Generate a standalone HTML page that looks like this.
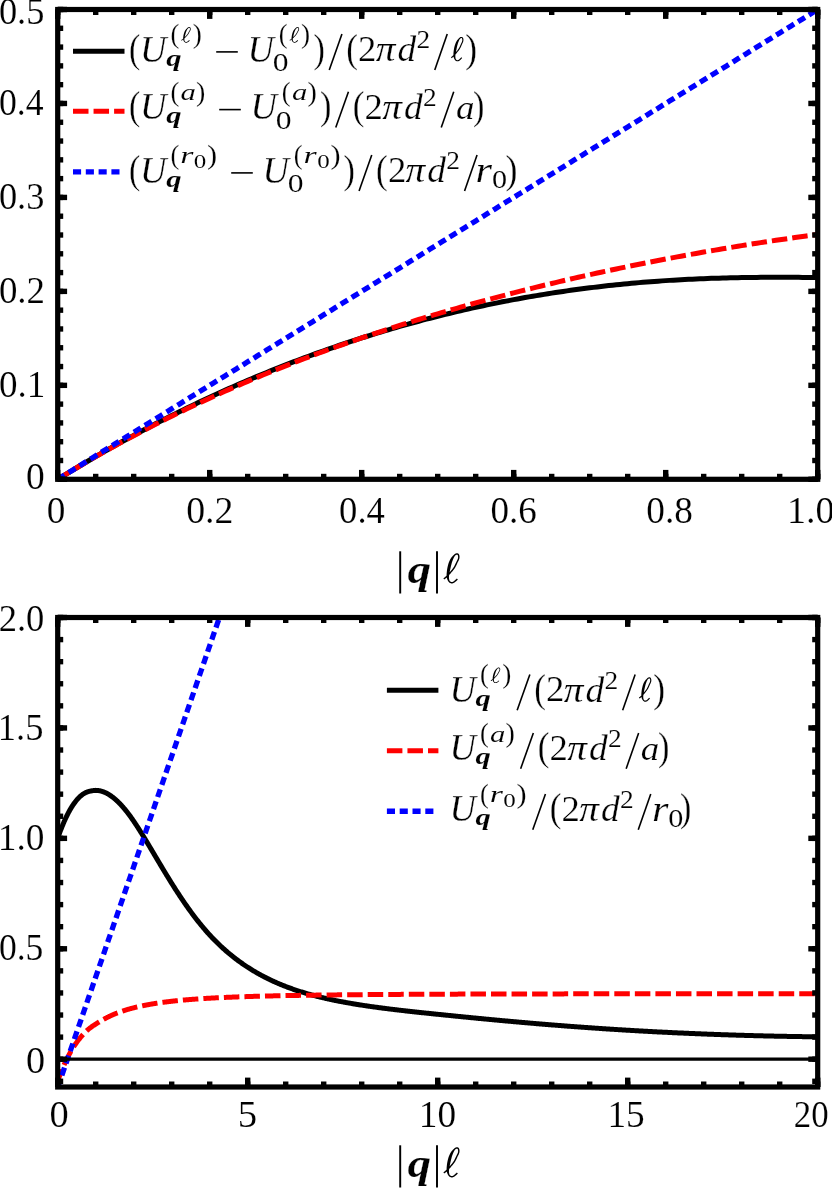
<!DOCTYPE html>
<html><head><meta charset="utf-8"><title>plot</title><style>html,body{margin:0;padding:0;background:#fff}svg{display:block;will-change:transform}text{font-family:"Liberation Serif",serif}</style></head><body>
<svg width="832" height="1191" viewBox="0 0 832 1191" font-family="'Liberation Serif', serif">
<rect width="832" height="1191" fill="#fff"/>
<defs><clipPath id="c1"><rect x="57.7" y="9.5" width="760" height="469.8"/></clipPath><clipPath id="c2"><rect x="57.7" y="617.5" width="760" height="469.5"/></clipPath></defs>
<g clip-path="url(#c1)" fill="none">
<path d="M57.70,479.30 L61.50,476.96 L65.30,474.63 L69.10,472.32 L72.90,470.03 L76.70,467.75 L80.50,465.48 L84.30,463.23 L88.10,460.99 L91.90,458.77 L95.70,456.57 L99.50,454.38 L103.30,452.20 L107.10,450.04 L110.90,447.90 L114.70,445.77 L118.50,443.65 L122.30,441.55 L126.10,439.47 L129.90,437.39 L133.70,435.34 L137.50,433.30 L141.30,431.27 L145.10,429.26 L148.90,427.26 L152.70,425.28 L156.50,423.31 L160.30,421.35 L164.10,419.42 L167.90,417.49 L171.70,415.58 L175.50,413.68 L179.30,411.80 L183.10,409.94 L186.90,408.08 L190.70,406.25 L194.50,404.42 L198.30,402.61 L202.10,400.82 L205.90,399.04 L209.70,397.27 L213.50,395.52 L217.30,393.78 L221.10,392.05 L224.90,390.34 L228.70,388.65 L232.50,386.97 L236.30,385.30 L240.10,383.64 L243.90,382.00 L247.70,380.38 L251.50,378.77 L255.30,377.17 L259.10,375.58 L262.90,374.01 L266.70,372.46 L270.50,370.91 L274.30,369.38 L278.10,367.87 L281.90,366.37 L285.70,364.88 L289.50,363.41 L293.30,361.94 L297.10,360.50 L300.90,359.06 L304.70,357.64 L308.50,356.24 L312.30,354.84 L316.10,353.47 L319.90,352.10 L323.70,350.75 L327.50,349.41 L331.30,348.08 L335.10,346.77 L338.90,345.47 L342.70,344.18 L346.50,342.91 L350.30,341.65 L354.10,340.41 L357.90,339.17 L361.70,337.95 L365.50,336.75 L369.30,335.55 L373.10,334.37 L376.90,333.21 L380.70,332.05 L384.50,330.91 L388.30,329.78 L392.10,328.67 L395.90,327.56 L399.70,326.47 L403.50,325.40 L407.30,324.33 L411.10,323.28 L414.90,322.24 L418.70,321.22 L422.50,320.20 L426.30,319.20 L430.10,318.22 L433.90,317.24 L437.70,316.28 L441.50,315.33 L445.30,314.39 L449.10,313.47 L452.90,312.56 L456.70,311.66 L460.50,310.77 L464.30,309.89 L468.10,309.03 L471.90,308.18 L475.70,307.34 L479.50,306.52 L483.30,305.71 L487.10,304.90 L490.90,304.12 L494.70,303.34 L498.50,302.58 L502.30,301.82 L506.10,301.08 L509.90,300.36 L513.70,299.64 L517.50,298.94 L521.30,298.25 L525.10,297.57 L528.90,296.90 L532.70,296.24 L536.50,295.60 L540.30,294.97 L544.10,294.35 L547.90,293.74 L551.70,293.14 L555.50,292.56 L559.30,291.99 L563.10,291.43 L566.90,290.88 L570.70,290.34 L574.50,289.81 L578.30,289.30 L582.10,288.80 L585.90,288.30 L589.70,287.82 L593.50,287.36 L597.30,286.90 L601.10,286.45 L604.90,286.02 L608.70,285.60 L612.50,285.19 L616.30,284.79 L620.10,284.40 L623.90,284.02 L627.70,283.66 L631.50,283.30 L635.30,282.96 L639.10,282.63 L642.90,282.31 L646.70,282.00 L650.50,281.70 L654.30,281.41 L658.10,281.14 L661.90,280.87 L665.70,280.62 L669.50,280.37 L673.30,280.14 L677.10,279.92 L680.90,279.71 L684.70,279.51 L688.50,279.31 L692.30,279.13 L696.10,278.96 L699.90,278.80 L703.70,278.65 L707.50,278.50 L711.30,278.37 L715.10,278.24 L718.90,278.13 L722.70,278.02 L726.50,277.92 L730.30,277.83 L734.10,277.75 L737.90,277.67 L741.70,277.60 L745.50,277.54 L749.30,277.49 L753.10,277.44 L756.90,277.40 L760.70,277.37 L764.50,277.34 L768.30,277.32 L772.10,277.31 L775.90,277.30 L779.70,277.30 L783.50,277.30 L787.30,277.31 L791.10,277.33 L794.90,277.35 L798.70,277.37 L802.50,277.40 L806.30,277.44 L810.10,277.48 L813.90,277.52 L817.70,277.57" stroke="#000" stroke-width="5"/>
<path d="M57.70,479.30 L61.50,476.96 L65.30,474.64 L69.10,472.33 L72.90,470.04 L76.70,467.77 L80.50,465.52 L84.30,463.28 L88.10,461.06 L91.90,458.86 L95.70,456.67 L99.50,454.50 L103.30,452.35 L107.10,450.21 L110.90,448.09 L114.70,445.98 L118.50,443.89 L122.30,441.82 L126.10,439.76 L129.90,437.72 L133.70,435.69 L137.50,433.68 L141.30,431.68 L145.10,429.70 L148.90,427.73 L152.70,425.78 L156.50,423.84 L160.30,421.91 L164.10,420.00 L167.90,418.11 L171.70,416.23 L175.50,414.36 L179.30,412.51 L183.10,410.67 L186.90,408.84 L190.70,407.03 L194.50,405.23 L198.30,403.45 L202.10,401.67 L205.90,399.92 L209.70,398.17 L213.50,396.44 L217.30,394.72 L221.10,393.01 L224.90,391.32 L228.70,389.63 L232.50,387.96 L236.30,386.31 L240.10,384.66 L243.90,383.03 L247.70,381.41 L251.50,379.80 L255.30,378.20 L259.10,376.62 L262.90,375.04 L266.70,373.48 L270.50,371.93 L274.30,370.39 L278.10,368.87 L281.90,367.35 L285.70,365.84 L289.50,364.35 L293.30,362.87 L297.10,361.39 L300.90,359.93 L304.70,358.48 L308.50,357.04 L312.30,355.61 L316.10,354.19 L319.90,352.78 L323.70,351.38 L327.50,350.00 L331.30,348.62 L335.10,347.25 L338.90,345.89 L342.70,344.54 L346.50,343.20 L350.30,341.87 L354.10,340.55 L357.90,339.24 L361.70,337.94 L365.50,336.65 L369.30,335.37 L373.10,334.09 L376.90,332.83 L380.70,331.57 L384.50,330.33 L388.30,329.09 L392.10,327.86 L395.90,326.65 L399.70,325.43 L403.50,324.23 L407.30,323.04 L411.10,321.85 L414.90,320.68 L418.70,319.51 L422.50,318.35 L426.30,317.20 L430.10,316.06 L433.90,314.92 L437.70,313.80 L441.50,312.68 L445.30,311.57 L449.10,310.46 L452.90,309.37 L456.70,308.28 L460.50,307.20 L464.30,306.13 L468.10,305.06 L471.90,304.01 L475.70,302.96 L479.50,301.92 L483.30,300.88 L487.10,299.85 L490.90,298.83 L494.70,297.82 L498.50,296.82 L502.30,295.82 L506.10,294.83 L509.90,293.84 L513.70,292.87 L517.50,291.89 L521.30,290.93 L525.10,289.97 L528.90,289.02 L532.70,288.08 L536.50,287.15 L540.30,286.22 L544.10,285.29 L547.90,284.38 L551.70,283.47 L555.50,282.56 L559.30,281.67 L563.10,280.78 L566.90,279.89 L570.70,279.01 L574.50,278.14 L578.30,277.28 L582.10,276.42 L585.90,275.57 L589.70,274.72 L593.50,273.88 L597.30,273.05 L601.10,272.22 L604.90,271.40 L608.70,270.58 L612.50,269.77 L616.30,268.97 L620.10,268.17 L623.90,267.38 L627.70,266.59 L631.50,265.81 L635.30,265.03 L639.10,264.27 L642.90,263.50 L646.70,262.75 L650.50,261.99 L654.30,261.25 L658.10,260.51 L661.90,259.78 L665.70,259.05 L669.50,258.32 L673.30,257.61 L677.10,256.90 L680.90,256.19 L684.70,255.49 L688.50,254.79 L692.30,254.11 L696.10,253.42 L699.90,252.74 L703.70,252.07 L707.50,251.40 L711.30,250.74 L715.10,250.09 L718.90,249.44 L722.70,248.79 L726.50,248.15 L730.30,247.52 L734.10,246.89 L737.90,246.27 L741.70,245.65 L745.50,245.04 L749.30,244.43 L753.10,243.83 L756.90,243.23 L760.70,242.64 L764.50,242.06 L768.30,241.48 L772.10,240.90 L775.90,240.33 L779.70,239.77 L783.50,239.21 L787.30,238.66 L791.10,238.11 L794.90,237.57 L798.70,237.04 L802.50,236.51 L806.30,235.98 L810.10,235.46 L813.90,234.95 L817.70,234.44" stroke="#ff0000" stroke-width="5" stroke-dasharray="15.5 5.05" stroke-dashoffset="2.3"/>
<path d="M57.70,479.30 L61.50,476.95 L65.30,474.60 L69.10,472.25 L72.90,469.90 L76.70,467.56 L80.50,465.21 L84.30,462.86 L88.10,460.51 L91.90,458.16 L95.70,455.81 L99.50,453.46 L103.30,451.11 L107.10,448.76 L110.90,446.41 L114.70,444.06 L118.50,441.72 L122.30,439.37 L126.10,437.02 L129.90,434.67 L133.70,432.32 L137.50,429.97 L141.30,427.62 L145.10,425.27 L148.90,422.92 L152.70,420.57 L156.50,418.23 L160.30,415.88 L164.10,413.53 L167.90,411.18 L171.70,408.83 L175.50,406.48 L179.30,404.13 L183.10,401.78 L186.90,399.43 L190.70,397.09 L194.50,394.74 L198.30,392.39 L202.10,390.04 L205.90,387.69 L209.70,385.34 L213.50,382.99 L217.30,380.64 L221.10,378.29 L224.90,375.94 L228.70,373.60 L232.50,371.25 L236.30,368.90 L240.10,366.55 L243.90,364.20 L247.70,361.85 L251.50,359.50 L255.30,357.15 L259.10,354.80 L262.90,352.45 L266.70,350.11 L270.50,347.76 L274.30,345.41 L278.10,343.06 L281.90,340.71 L285.70,338.36 L289.50,336.01 L293.30,333.66 L297.10,331.31 L300.90,328.96 L304.70,326.62 L308.50,324.27 L312.30,321.92 L316.10,319.57 L319.90,317.22 L323.70,314.87 L327.50,312.52 L331.30,310.17 L335.10,307.82 L338.90,305.47 L342.70,303.12 L346.50,300.78 L350.30,298.43 L354.10,296.08 L357.90,293.73 L361.70,291.38 L365.50,289.03 L369.30,286.68 L373.10,284.33 L376.90,281.98 L380.70,279.63 L384.50,277.29 L388.30,274.94 L392.10,272.59 L395.90,270.24 L399.70,267.89 L403.50,265.54 L407.30,263.19 L411.10,260.84 L414.90,258.49 L418.70,256.14 L422.50,253.80 L426.30,251.45 L430.10,249.10 L433.90,246.75 L437.70,244.40 L441.50,242.05 L445.30,239.70 L449.10,237.35 L452.90,235.00 L456.70,232.66 L460.50,230.31 L464.30,227.96 L468.10,225.61 L471.90,223.26 L475.70,220.91 L479.50,218.56 L483.30,216.21 L487.10,213.86 L490.90,211.51 L494.70,209.16 L498.50,206.82 L502.30,204.47 L506.10,202.12 L509.90,199.77 L513.70,197.42 L517.50,195.07 L521.30,192.72 L525.10,190.37 L528.90,188.02 L532.70,185.68 L536.50,183.33 L540.30,180.98 L544.10,178.63 L547.90,176.28 L551.70,173.93 L555.50,171.58 L559.30,169.23 L563.10,166.88 L566.90,164.53 L570.70,162.19 L574.50,159.84 L578.30,157.49 L582.10,155.14 L585.90,152.79 L589.70,150.44 L593.50,148.09 L597.30,145.74 L601.10,143.39 L604.90,141.04 L608.70,138.69 L612.50,136.35 L616.30,134.00 L620.10,131.65 L623.90,129.30 L627.70,126.95 L631.50,124.60 L635.30,122.25 L639.10,119.90 L642.90,117.55 L646.70,115.20 L650.50,112.86 L654.30,110.51 L658.10,108.16 L661.90,105.81 L665.70,103.46 L669.50,101.11 L673.30,98.76 L677.10,96.41 L680.90,94.06 L684.70,91.71 L688.50,89.37 L692.30,87.02 L696.10,84.67 L699.90,82.32 L703.70,79.97 L707.50,77.62 L711.30,75.27 L715.10,72.92 L718.90,70.57 L722.70,68.23 L726.50,65.88 L730.30,63.53 L734.10,61.18 L737.90,58.83 L741.70,56.48 L745.50,54.13 L749.30,51.78 L753.10,49.43 L756.90,47.08 L760.70,44.73 L764.50,42.39 L768.30,40.04 L772.10,37.69 L775.90,35.34 L779.70,32.99 L783.50,30.64 L787.30,28.29 L791.10,25.94 L794.90,23.59 L798.70,21.25 L802.50,18.90 L806.30,16.55 L810.10,14.20 L813.90,11.85 L817.70,9.50" stroke="#0000ff" stroke-width="5.3" stroke-dasharray="8.1 4.7"/>
</g>
<rect x="57.7" y="9.5" width="760.0" height="469.8" fill="none" stroke="#000" stroke-width="5.2"/>
<line x1="57.70" y1="479.30" x2="57.70" y2="469.90" stroke="#000" stroke-width="5.4"/>
<line x1="57.70" y1="9.50" x2="57.70" y2="18.90" stroke="#000" stroke-width="5.4"/>
<line x1="209.70" y1="479.30" x2="209.70" y2="469.90" stroke="#000" stroke-width="5.4"/>
<line x1="209.70" y1="9.50" x2="209.70" y2="18.90" stroke="#000" stroke-width="5.4"/>
<line x1="361.70" y1="479.30" x2="361.70" y2="469.90" stroke="#000" stroke-width="5.4"/>
<line x1="361.70" y1="9.50" x2="361.70" y2="18.90" stroke="#000" stroke-width="5.4"/>
<line x1="513.70" y1="479.30" x2="513.70" y2="469.90" stroke="#000" stroke-width="5.4"/>
<line x1="513.70" y1="9.50" x2="513.70" y2="18.90" stroke="#000" stroke-width="5.4"/>
<line x1="665.70" y1="479.30" x2="665.70" y2="469.90" stroke="#000" stroke-width="5.4"/>
<line x1="665.70" y1="9.50" x2="665.70" y2="18.90" stroke="#000" stroke-width="5.4"/>
<line x1="817.70" y1="479.30" x2="817.70" y2="469.90" stroke="#000" stroke-width="5.4"/>
<line x1="817.70" y1="9.50" x2="817.70" y2="18.90" stroke="#000" stroke-width="5.4"/>
<line x1="57.70" y1="479.30" x2="57.70" y2="473.80" stroke="#000" stroke-width="5.4"/>
<line x1="57.70" y1="9.50" x2="57.70" y2="15.00" stroke="#000" stroke-width="5.4"/>
<line x1="95.70" y1="479.30" x2="95.70" y2="473.80" stroke="#000" stroke-width="5.4"/>
<line x1="95.70" y1="9.50" x2="95.70" y2="15.00" stroke="#000" stroke-width="5.4"/>
<line x1="133.70" y1="479.30" x2="133.70" y2="473.80" stroke="#000" stroke-width="5.4"/>
<line x1="133.70" y1="9.50" x2="133.70" y2="15.00" stroke="#000" stroke-width="5.4"/>
<line x1="171.70" y1="479.30" x2="171.70" y2="473.80" stroke="#000" stroke-width="5.4"/>
<line x1="171.70" y1="9.50" x2="171.70" y2="15.00" stroke="#000" stroke-width="5.4"/>
<line x1="209.70" y1="479.30" x2="209.70" y2="473.80" stroke="#000" stroke-width="5.4"/>
<line x1="209.70" y1="9.50" x2="209.70" y2="15.00" stroke="#000" stroke-width="5.4"/>
<line x1="247.70" y1="479.30" x2="247.70" y2="473.80" stroke="#000" stroke-width="5.4"/>
<line x1="247.70" y1="9.50" x2="247.70" y2="15.00" stroke="#000" stroke-width="5.4"/>
<line x1="285.70" y1="479.30" x2="285.70" y2="473.80" stroke="#000" stroke-width="5.4"/>
<line x1="285.70" y1="9.50" x2="285.70" y2="15.00" stroke="#000" stroke-width="5.4"/>
<line x1="323.70" y1="479.30" x2="323.70" y2="473.80" stroke="#000" stroke-width="5.4"/>
<line x1="323.70" y1="9.50" x2="323.70" y2="15.00" stroke="#000" stroke-width="5.4"/>
<line x1="361.70" y1="479.30" x2="361.70" y2="473.80" stroke="#000" stroke-width="5.4"/>
<line x1="361.70" y1="9.50" x2="361.70" y2="15.00" stroke="#000" stroke-width="5.4"/>
<line x1="399.70" y1="479.30" x2="399.70" y2="473.80" stroke="#000" stroke-width="5.4"/>
<line x1="399.70" y1="9.50" x2="399.70" y2="15.00" stroke="#000" stroke-width="5.4"/>
<line x1="437.70" y1="479.30" x2="437.70" y2="473.80" stroke="#000" stroke-width="5.4"/>
<line x1="437.70" y1="9.50" x2="437.70" y2="15.00" stroke="#000" stroke-width="5.4"/>
<line x1="475.70" y1="479.30" x2="475.70" y2="473.80" stroke="#000" stroke-width="5.4"/>
<line x1="475.70" y1="9.50" x2="475.70" y2="15.00" stroke="#000" stroke-width="5.4"/>
<line x1="513.70" y1="479.30" x2="513.70" y2="473.80" stroke="#000" stroke-width="5.4"/>
<line x1="513.70" y1="9.50" x2="513.70" y2="15.00" stroke="#000" stroke-width="5.4"/>
<line x1="551.70" y1="479.30" x2="551.70" y2="473.80" stroke="#000" stroke-width="5.4"/>
<line x1="551.70" y1="9.50" x2="551.70" y2="15.00" stroke="#000" stroke-width="5.4"/>
<line x1="589.70" y1="479.30" x2="589.70" y2="473.80" stroke="#000" stroke-width="5.4"/>
<line x1="589.70" y1="9.50" x2="589.70" y2="15.00" stroke="#000" stroke-width="5.4"/>
<line x1="627.70" y1="479.30" x2="627.70" y2="473.80" stroke="#000" stroke-width="5.4"/>
<line x1="627.70" y1="9.50" x2="627.70" y2="15.00" stroke="#000" stroke-width="5.4"/>
<line x1="665.70" y1="479.30" x2="665.70" y2="473.80" stroke="#000" stroke-width="5.4"/>
<line x1="665.70" y1="9.50" x2="665.70" y2="15.00" stroke="#000" stroke-width="5.4"/>
<line x1="703.70" y1="479.30" x2="703.70" y2="473.80" stroke="#000" stroke-width="5.4"/>
<line x1="703.70" y1="9.50" x2="703.70" y2="15.00" stroke="#000" stroke-width="5.4"/>
<line x1="741.70" y1="479.30" x2="741.70" y2="473.80" stroke="#000" stroke-width="5.4"/>
<line x1="741.70" y1="9.50" x2="741.70" y2="15.00" stroke="#000" stroke-width="5.4"/>
<line x1="779.70" y1="479.30" x2="779.70" y2="473.80" stroke="#000" stroke-width="5.4"/>
<line x1="779.70" y1="9.50" x2="779.70" y2="15.00" stroke="#000" stroke-width="5.4"/>
<line x1="817.70" y1="479.30" x2="817.70" y2="473.80" stroke="#000" stroke-width="5.4"/>
<line x1="817.70" y1="9.50" x2="817.70" y2="15.00" stroke="#000" stroke-width="5.4"/>
<line x1="57.70" y1="479.30" x2="67.10" y2="479.30" stroke="#000" stroke-width="5.4"/>
<line x1="817.70" y1="479.30" x2="808.30" y2="479.30" stroke="#000" stroke-width="5.4"/>
<line x1="57.70" y1="385.34" x2="67.10" y2="385.34" stroke="#000" stroke-width="5.4"/>
<line x1="817.70" y1="385.34" x2="808.30" y2="385.34" stroke="#000" stroke-width="5.4"/>
<line x1="57.70" y1="291.38" x2="67.10" y2="291.38" stroke="#000" stroke-width="5.4"/>
<line x1="817.70" y1="291.38" x2="808.30" y2="291.38" stroke="#000" stroke-width="5.4"/>
<line x1="57.70" y1="197.42" x2="67.10" y2="197.42" stroke="#000" stroke-width="5.4"/>
<line x1="817.70" y1="197.42" x2="808.30" y2="197.42" stroke="#000" stroke-width="5.4"/>
<line x1="57.70" y1="103.46" x2="67.10" y2="103.46" stroke="#000" stroke-width="5.4"/>
<line x1="817.70" y1="103.46" x2="808.30" y2="103.46" stroke="#000" stroke-width="5.4"/>
<line x1="57.70" y1="9.50" x2="67.10" y2="9.50" stroke="#000" stroke-width="5.4"/>
<line x1="817.70" y1="9.50" x2="808.30" y2="9.50" stroke="#000" stroke-width="5.4"/>
<line x1="57.70" y1="479.30" x2="63.20" y2="479.30" stroke="#000" stroke-width="5.4"/>
<line x1="817.70" y1="479.30" x2="812.20" y2="479.30" stroke="#000" stroke-width="5.4"/>
<line x1="57.70" y1="460.51" x2="63.20" y2="460.51" stroke="#000" stroke-width="5.4"/>
<line x1="817.70" y1="460.51" x2="812.20" y2="460.51" stroke="#000" stroke-width="5.4"/>
<line x1="57.70" y1="441.72" x2="63.20" y2="441.72" stroke="#000" stroke-width="5.4"/>
<line x1="817.70" y1="441.72" x2="812.20" y2="441.72" stroke="#000" stroke-width="5.4"/>
<line x1="57.70" y1="422.92" x2="63.20" y2="422.92" stroke="#000" stroke-width="5.4"/>
<line x1="817.70" y1="422.92" x2="812.20" y2="422.92" stroke="#000" stroke-width="5.4"/>
<line x1="57.70" y1="404.13" x2="63.20" y2="404.13" stroke="#000" stroke-width="5.4"/>
<line x1="817.70" y1="404.13" x2="812.20" y2="404.13" stroke="#000" stroke-width="5.4"/>
<line x1="57.70" y1="385.34" x2="63.20" y2="385.34" stroke="#000" stroke-width="5.4"/>
<line x1="817.70" y1="385.34" x2="812.20" y2="385.34" stroke="#000" stroke-width="5.4"/>
<line x1="57.70" y1="366.55" x2="63.20" y2="366.55" stroke="#000" stroke-width="5.4"/>
<line x1="817.70" y1="366.55" x2="812.20" y2="366.55" stroke="#000" stroke-width="5.4"/>
<line x1="57.70" y1="347.76" x2="63.20" y2="347.76" stroke="#000" stroke-width="5.4"/>
<line x1="817.70" y1="347.76" x2="812.20" y2="347.76" stroke="#000" stroke-width="5.4"/>
<line x1="57.70" y1="328.96" x2="63.20" y2="328.96" stroke="#000" stroke-width="5.4"/>
<line x1="817.70" y1="328.96" x2="812.20" y2="328.96" stroke="#000" stroke-width="5.4"/>
<line x1="57.70" y1="310.17" x2="63.20" y2="310.17" stroke="#000" stroke-width="5.4"/>
<line x1="817.70" y1="310.17" x2="812.20" y2="310.17" stroke="#000" stroke-width="5.4"/>
<line x1="57.70" y1="291.38" x2="63.20" y2="291.38" stroke="#000" stroke-width="5.4"/>
<line x1="817.70" y1="291.38" x2="812.20" y2="291.38" stroke="#000" stroke-width="5.4"/>
<line x1="57.70" y1="272.59" x2="63.20" y2="272.59" stroke="#000" stroke-width="5.4"/>
<line x1="817.70" y1="272.59" x2="812.20" y2="272.59" stroke="#000" stroke-width="5.4"/>
<line x1="57.70" y1="253.80" x2="63.20" y2="253.80" stroke="#000" stroke-width="5.4"/>
<line x1="817.70" y1="253.80" x2="812.20" y2="253.80" stroke="#000" stroke-width="5.4"/>
<line x1="57.70" y1="235.00" x2="63.20" y2="235.00" stroke="#000" stroke-width="5.4"/>
<line x1="817.70" y1="235.00" x2="812.20" y2="235.00" stroke="#000" stroke-width="5.4"/>
<line x1="57.70" y1="216.21" x2="63.20" y2="216.21" stroke="#000" stroke-width="5.4"/>
<line x1="817.70" y1="216.21" x2="812.20" y2="216.21" stroke="#000" stroke-width="5.4"/>
<line x1="57.70" y1="197.42" x2="63.20" y2="197.42" stroke="#000" stroke-width="5.4"/>
<line x1="817.70" y1="197.42" x2="812.20" y2="197.42" stroke="#000" stroke-width="5.4"/>
<line x1="57.70" y1="178.63" x2="63.20" y2="178.63" stroke="#000" stroke-width="5.4"/>
<line x1="817.70" y1="178.63" x2="812.20" y2="178.63" stroke="#000" stroke-width="5.4"/>
<line x1="57.70" y1="159.84" x2="63.20" y2="159.84" stroke="#000" stroke-width="5.4"/>
<line x1="817.70" y1="159.84" x2="812.20" y2="159.84" stroke="#000" stroke-width="5.4"/>
<line x1="57.70" y1="141.04" x2="63.20" y2="141.04" stroke="#000" stroke-width="5.4"/>
<line x1="817.70" y1="141.04" x2="812.20" y2="141.04" stroke="#000" stroke-width="5.4"/>
<line x1="57.70" y1="122.25" x2="63.20" y2="122.25" stroke="#000" stroke-width="5.4"/>
<line x1="817.70" y1="122.25" x2="812.20" y2="122.25" stroke="#000" stroke-width="5.4"/>
<line x1="57.70" y1="103.46" x2="63.20" y2="103.46" stroke="#000" stroke-width="5.4"/>
<line x1="817.70" y1="103.46" x2="812.20" y2="103.46" stroke="#000" stroke-width="5.4"/>
<line x1="57.70" y1="84.67" x2="63.20" y2="84.67" stroke="#000" stroke-width="5.4"/>
<line x1="817.70" y1="84.67" x2="812.20" y2="84.67" stroke="#000" stroke-width="5.4"/>
<line x1="57.70" y1="65.88" x2="63.20" y2="65.88" stroke="#000" stroke-width="5.4"/>
<line x1="817.70" y1="65.88" x2="812.20" y2="65.88" stroke="#000" stroke-width="5.4"/>
<line x1="57.70" y1="47.08" x2="63.20" y2="47.08" stroke="#000" stroke-width="5.4"/>
<line x1="817.70" y1="47.08" x2="812.20" y2="47.08" stroke="#000" stroke-width="5.4"/>
<line x1="57.70" y1="28.29" x2="63.20" y2="28.29" stroke="#000" stroke-width="5.4"/>
<line x1="817.70" y1="28.29" x2="812.20" y2="28.29" stroke="#000" stroke-width="5.4"/>
<line x1="57.70" y1="9.50" x2="63.20" y2="9.50" stroke="#000" stroke-width="5.4"/>
<line x1="817.70" y1="9.50" x2="812.20" y2="9.50" stroke="#000" stroke-width="5.4"/>
<text transform="matrix(1.0255 0 0 1.04 -1.09 24.30)" font-size="35.5" stroke="#fff" stroke-width="0.15">0.5</text>
<text transform="matrix(1.0055 0 0 1.04 -1.06 115.16)" font-size="35.5" stroke="#fff" stroke-width="0.15">0.4</text>
<text transform="matrix(1.0255 0 0 1.04 -1.09 209.12)" font-size="35.5" stroke="#fff" stroke-width="0.15">0.3</text>
<text transform="matrix(1.0398 0 0 1.04 -1.11 303.08)" font-size="35.5" stroke="#fff" stroke-width="0.15">0.2</text>
<text transform="matrix(1.0442 0 0 1.04 -1.11 397.04)" font-size="35.5" stroke="#fff" stroke-width="0.15">0.1</text>
<text transform="matrix(1.0568 0 0 1.04 26.07 489.30)" font-size="35.5" stroke="#fff" stroke-width="0.15">0</text>
<text transform="matrix(1.0501 0 0 1.04 46.78 522.50)" font-size="35.5" stroke="#fff" stroke-width="0.15">0</text>
<text transform="matrix(1.0642 0 0 1.04 186.16 522.50)" font-size="35.5" stroke="#fff" stroke-width="0.15">0.2</text>
<text transform="matrix(1.0314 0 0 1.04 339.11 522.50)" font-size="35.5" stroke="#fff" stroke-width="0.15">0.4</text>
<text transform="matrix(1.0437 0 0 1.04 490.59 522.50)" font-size="35.5" stroke="#fff" stroke-width="0.15">0.6</text>
<text transform="matrix(1.0499 0 0 1.04 646.33 522.50)" font-size="35.5" stroke="#fff" stroke-width="0.15">0.8</text>
<text transform="matrix(1.0714 0 0 1.04 786.91 522.50)" font-size="35.5" stroke="#fff" stroke-width="0.15">1.0</text>
<line x1="400.20" y1="551.30" x2="400.20" y2="593.50" stroke="#000" stroke-width="1.95"/>
<line x1="437.00" y1="551.30" x2="437.00" y2="593.50" stroke="#000" stroke-width="1.95"/>
<text transform="matrix(0.4719 0 0 0.4108 407.40 583.26)" font-size="100" font-style="italic" font-weight="bold" fill="#000" stroke="#fff" stroke-width="0.53">q</text>
<path d="M444.18,579.49 L444.73,579.12 L445.28,578.72 L445.82,578.30 L446.35,577.85 L446.87,577.38 L447.38,576.90 L447.88,576.40 L448.38,575.88 L448.87,575.36 L449.35,574.82 L449.84,574.27 L450.32,573.72 L450.80,573.15 L451.28,572.59 L451.75,572.02 L452.23,571.46 L452.72,570.88 L453.20,570.29 L453.68,569.69 L454.15,569.06 L454.61,568.41 L455.06,567.72 L455.48,567.01 L455.88,566.26 L456.26,565.48 L456.63,564.70 L456.99,563.90 L457.36,563.09 L457.74,562.29 L458.14,561.48 L458.57,560.65 L458.97,559.76 L459.31,558.79 L459.51,557.71 L459.53,556.54 L459.34,555.36 L458.92,554.34 L458.23,553.61 L457.39,553.27 L456.57,553.26 L455.82,553.46 L455.15,553.80 L454.56,554.25 L454.01,554.76 L453.47,555.30 L452.88,555.83 L452.31,556.42 L451.76,557.06 L451.24,557.75 L450.74,558.49 L450.27,559.29 L449.83,560.13 L449.42,561.00 L449.05,561.91 L448.71,562.85 L448.40,563.80 L448.12,564.78 L447.86,565.76 L447.63,566.75 L447.42,567.76 L447.23,568.77 L447.06,569.79 L446.92,570.83 L446.80,571.88 L446.70,572.94 L446.62,574.02 L446.59,575.13 L446.62,576.27 L446.75,577.42 L446.99,578.55 L447.35,579.61 L447.81,580.56 L448.35,581.38 L448.88,582.11 L449.49,582.67 L450.15,583.09 L450.85,583.35 L451.56,583.46 L452.25,583.42 L452.92,583.27 L453.56,583.02 L454.17,582.69 L454.76,582.29 L455.32,581.86 L455.86,581.38 L456.39,580.89 L456.89,580.38 L457.38,579.88 L457.86,579.39 L456.83,578.40 L456.36,578.89 L455.88,579.38 L455.39,579.86 L454.90,580.32 L454.41,580.75 L453.92,581.14 L453.43,581.46 L452.96,581.72 L452.50,581.90 L452.06,582.01 L451.63,582.03 L451.21,581.96 L450.78,581.81 L450.36,581.54 L449.95,581.16 L449.56,580.64 L449.31,579.92 L449.12,579.08 L449.00,578.17 L448.96,577.23 L449.01,576.27 L449.12,575.30 L449.28,574.30 L449.46,573.29 L449.64,572.29 L449.84,571.30 L450.04,570.32 L450.24,569.35 L450.45,568.39 L450.66,567.44 L450.88,566.49 L451.10,565.55 L451.33,564.63 L451.57,563.73 L451.82,562.85 L452.07,562.00 L452.34,561.17 L452.62,560.39 L452.91,559.63 L453.22,558.91 L453.55,558.21 L453.89,557.54 L454.24,556.90 L454.60,556.29 L455.03,555.77 L455.48,555.34 L455.92,555.01 L456.34,554.79 L456.74,554.68 L457.11,554.68 L457.41,554.79 L457.70,555.08 L457.96,555.73 L458.10,556.65 L458.09,557.57 L457.92,558.42 L457.64,559.23 L457.28,560.03 L456.87,560.84 L456.45,561.66 L456.06,562.49 L455.69,563.30 L455.33,564.10 L454.97,564.87 L454.61,565.60 L454.23,566.30 L453.84,566.97 L453.43,567.60 L452.99,568.22 L452.55,568.81 L452.09,569.39 L451.62,569.97 L451.14,570.53 L450.66,571.10 L450.18,571.67 L449.71,572.23 L449.23,572.78 L448.76,573.33 L448.29,573.86 L447.81,574.39 L447.34,574.90 L446.86,575.40 L446.38,575.87 L445.89,576.33 L445.41,576.77 L444.91,577.19 L444.42,577.58 L443.91,577.95 L443.39,578.30Z" fill="#000"/>
<g clip-path="url(#c2)" fill="none">
<path d="M57.70,838.35 L58.08,837.25 L58.46,836.17 L58.84,835.10 L59.22,834.05 L59.60,833.01 L59.98,831.98 L60.36,830.97 L60.74,829.97 L61.12,828.99 L61.50,828.02 L61.88,827.06 L62.26,826.12 L62.64,825.19 L63.02,824.27 L63.40,823.37 L63.78,822.49 L64.16,821.61 L64.54,820.75 L64.92,819.90 L65.30,819.07 L65.68,818.25 L66.06,817.44 L66.44,816.65 L66.82,815.87 L67.20,815.10 L67.58,814.34 L67.96,813.60 L68.34,812.87 L68.72,812.16 L69.10,811.46 L69.48,810.77 L69.86,810.09 L70.24,809.42 L70.62,808.77 L71.00,808.13 L71.38,807.51 L71.76,806.89 L72.14,806.29 L72.52,805.70 L72.90,805.13 L73.28,804.56 L73.66,804.01 L74.04,803.47 L74.42,802.94 L74.80,802.43 L75.18,801.93 L75.56,801.43 L75.94,800.96 L76.32,800.49 L76.70,800.03 L77.08,799.59 L77.46,799.16 L77.84,798.74 L78.22,798.33 L78.60,797.93 L78.98,797.55 L79.36,797.17 L79.74,796.81 L80.12,796.46 L80.50,796.12 L80.88,795.79 L81.26,795.48 L81.64,795.17 L82.02,794.88 L82.40,794.59 L82.78,794.32 L83.16,794.06 L83.54,793.81 L83.92,793.57 L84.30,793.34 L84.68,793.13 L85.06,792.93 L85.44,792.74 L85.82,792.56 L86.20,792.39 L86.58,792.23 L86.96,792.08 L87.34,791.94 L87.72,791.80 L88.10,791.68 L88.48,791.56 L88.86,791.45 L89.24,791.34 L89.62,791.25 L90.00,791.16 L90.38,791.07 L90.76,790.99 L91.14,790.92 L91.52,790.85 L91.90,790.78 L92.28,790.72 L92.66,790.66 L93.04,790.61 L93.42,790.57 L93.80,790.52 L94.18,790.48 L94.56,790.45 L94.94,790.42 L95.32,790.39 L95.70,790.37 L96.08,790.38 L96.46,790.39 L96.84,790.41 L97.22,790.44 L97.60,790.47 L97.98,790.51 L98.36,790.56 L98.74,790.61 L99.12,790.67 L99.50,790.74 L99.88,790.81 L100.26,790.89 L100.64,790.98 L101.02,791.07 L101.40,791.17 L101.78,791.28 L102.16,791.40 L102.54,791.52 L102.92,791.65 L103.30,791.78 L103.68,791.92 L104.06,792.07 L104.44,792.22 L104.82,792.39 L105.20,792.55 L105.58,792.73 L105.96,792.91 L106.34,793.10 L106.72,793.29 L107.10,793.49 L107.48,793.70 L107.86,793.91 L108.24,794.13 L108.62,794.36 L109.00,794.59 L109.38,794.83 L109.76,795.07 L110.14,795.32 L110.52,795.58 L110.90,795.84 L111.28,796.11 L111.66,796.39 L112.04,796.67 L112.42,796.96 L112.80,797.25 L113.18,797.55 L113.56,797.85 L113.94,798.16 L114.32,798.47 L114.70,798.80 L115.08,799.12 L115.46,799.45 L115.84,799.79 L116.22,800.13 L116.60,800.48 L116.98,800.84 L117.36,801.19 L117.74,801.56 L118.12,801.93 L118.50,802.30 L118.88,802.68 L119.26,803.07 L119.64,803.46 L120.02,803.85 L120.40,804.25 L120.78,804.66 L121.16,805.07 L121.54,805.49 L121.92,805.91 L122.30,806.33 L122.68,806.76 L123.06,807.20 L123.44,807.64 L123.82,808.08 L124.20,808.53 L124.58,808.98 L124.96,809.44 L125.34,809.90 L125.72,810.37 L126.10,810.84 L126.48,811.32 L126.86,811.80 L127.24,812.29 L127.62,812.78 L128.00,813.27 L128.38,813.77 L128.76,814.27 L129.14,814.78 L129.52,815.29 L129.90,815.81 L130.28,816.33 L130.66,816.85 L131.04,817.38 L131.42,817.91 L131.80,818.45 L132.18,818.99 L132.56,819.53 L132.94,820.08 L133.32,820.63 L133.70,821.19 L134.08,821.75 L134.46,822.31 L134.84,822.88 L135.22,823.45 L135.60,824.02 L135.98,824.59 L136.36,825.17 L136.74,825.75 L137.12,826.33 L137.50,826.92 L137.88,827.51 L138.26,828.10 L138.64,828.69 L139.02,829.29 L139.40,829.89 L139.78,830.49 L140.16,831.09 L140.54,831.70 L140.92,832.31 L141.30,832.92 L141.68,833.53 L142.06,834.14 L142.44,834.76 L142.82,835.37 L143.20,835.99 L143.58,836.61 L143.96,837.23 L144.34,837.85 L144.72,838.48 L145.10,839.10 L145.48,839.73 L145.86,840.36 L146.24,840.99 L146.62,841.62 L147.00,842.25 L147.38,842.88 L147.76,843.52 L148.14,844.15 L148.52,844.79 L148.90,845.42 L149.28,846.06 L149.66,846.70 L150.04,847.33 L150.42,847.97 L150.80,848.61 L151.18,849.25 L151.56,849.89 L151.94,850.53 L152.32,851.17 L152.70,851.81 L153.08,852.45 L153.46,853.09 L153.84,853.74 L154.22,854.38 L154.60,855.02 L154.98,855.66 L155.36,856.30 L155.74,856.94 L156.12,857.58 L156.50,858.22 L156.88,858.86 L157.26,859.50 L157.64,860.14 L158.02,860.78 L158.40,861.42 L158.78,862.06 L159.16,862.70 L159.54,863.34 L159.92,863.97 L160.30,864.61 L160.68,865.25 L161.06,865.88 L161.44,866.52 L161.82,867.15 L162.20,867.79 L162.58,868.42 L162.96,869.05 L163.34,869.68 L163.72,870.31 L164.10,870.94 L164.48,871.57 L164.86,872.20 L165.24,872.83 L165.62,873.45 L166.00,874.08 L166.38,874.70 L166.76,875.32 L167.14,875.94 L167.52,876.57 L167.90,877.18 L168.28,877.80 L168.66,878.42 L169.04,879.04 L169.42,879.65 L169.80,880.26 L170.18,880.88 L170.56,881.49 L170.94,882.10 L171.32,882.71 L171.70,883.31 L172.46,884.52 L173.22,885.73 L173.98,886.93 L174.74,888.12 L175.50,889.31 L176.26,890.49 L177.02,891.66 L177.78,892.83 L178.54,893.99 L179.30,895.15 L180.06,896.30 L180.82,897.44 L181.58,898.57 L182.34,899.70 L183.10,900.82 L183.86,901.93 L184.62,903.04 L185.38,904.14 L186.14,905.23 L186.90,906.31 L187.66,907.39 L188.42,908.45 L189.18,909.51 L189.94,910.56 L190.70,911.61 L191.46,912.64 L192.22,913.67 L192.98,914.69 L193.74,915.70 L194.50,916.71 L195.26,917.70 L196.02,918.69 L196.78,919.67 L197.54,920.64 L198.30,921.60 L199.06,922.55 L199.82,923.50 L200.58,924.43 L201.34,925.36 L202.10,926.28 L202.86,927.19 L203.62,928.09 L204.38,928.98 L205.14,929.87 L205.90,930.74 L206.66,931.61 L207.42,932.47 L208.18,933.32 L208.94,934.16 L209.70,934.99 L210.46,935.81 L211.22,936.62 L211.98,937.43 L212.74,938.22 L213.50,939.01 L214.26,939.79 L215.02,940.57 L215.78,941.33 L216.54,942.09 L217.30,942.84 L218.06,943.58 L218.82,944.31 L219.58,945.03 L220.34,945.75 L221.10,946.46 L221.86,947.17 L222.62,947.86 L223.38,948.55 L224.14,949.23 L224.90,949.91 L225.66,950.58 L226.42,951.24 L227.18,951.89 L227.94,952.54 L228.70,953.18 L229.46,953.81 L230.22,954.44 L230.98,955.06 L231.74,955.68 L232.50,956.29 L233.26,956.89 L234.02,957.48 L234.78,958.07 L235.54,958.66 L236.30,959.24 L237.06,959.81 L237.82,960.37 L238.58,960.94 L239.34,961.49 L240.10,962.04 L240.86,962.58 L241.62,963.12 L242.38,963.65 L243.14,964.18 L243.90,964.70 L244.66,965.22 L245.42,965.73 L246.18,966.24 L246.94,966.74 L247.70,967.23 L248.46,967.72 L249.22,968.21 L249.98,968.69 L250.74,969.17 L251.50,969.64 L252.26,970.10 L253.02,970.56 L253.78,971.02 L254.54,971.47 L255.30,971.92 L256.06,972.36 L256.82,972.80 L257.58,973.23 L258.34,973.66 L259.10,974.09 L259.86,974.51 L260.62,974.92 L261.38,975.34 L262.14,975.74 L262.90,976.15 L263.66,976.55 L264.42,976.94 L265.18,977.33 L265.94,977.72 L266.70,978.10 L267.46,978.48 L268.22,978.86 L268.98,979.23 L269.74,979.60 L270.50,979.96 L271.26,980.32 L272.02,980.67 L272.78,981.03 L273.54,981.38 L274.30,981.72 L275.06,982.06 L275.82,982.40 L276.58,982.73 L277.34,983.07 L278.10,983.39 L278.86,983.72 L279.62,984.04 L280.38,984.35 L281.14,984.67 L281.90,984.98 L282.66,985.29 L283.42,985.59 L284.18,985.89 L284.94,986.19 L285.70,986.48 L286.46,986.77 L287.22,987.06 L287.98,987.35 L288.74,987.63 L289.50,987.91 L290.26,988.18 L291.02,988.46 L291.78,988.73 L292.54,989.00 L293.30,989.26 L294.06,989.52 L294.82,989.78 L295.58,990.04 L296.34,990.29 L297.10,990.54 L297.86,990.79 L298.62,991.04 L299.38,991.28 L300.14,991.52 L300.90,991.76 L301.66,992.00 L302.42,992.23 L303.18,992.47 L303.94,992.70 L304.70,992.92 L305.46,993.15 L306.22,993.37 L306.98,993.59 L307.74,993.81 L308.50,994.03 L309.26,994.24 L310.02,994.45 L310.78,994.66 L311.54,994.87 L312.30,995.07 L313.06,995.28 L313.82,995.48 L314.58,995.68 L315.34,995.88 L316.10,996.07 L316.86,996.27 L317.62,996.46 L318.38,996.65 L319.14,996.84 L319.90,997.03 L320.66,997.21 L321.42,997.40 L322.18,997.58 L322.94,997.76 L323.70,997.94 L324.46,998.11 L325.22,998.29 L325.98,998.46 L326.74,998.63 L327.50,998.80 L328.26,998.97 L329.02,999.14 L329.78,999.31 L330.54,999.47 L331.30,999.63 L332.06,999.79 L332.82,999.95 L333.58,1000.11 L334.34,1000.27 L335.10,1000.43 L335.86,1000.58 L336.62,1000.73 L337.38,1000.88 L338.14,1001.04 L338.90,1001.18 L339.66,1001.33 L340.42,1001.48 L341.18,1001.62 L341.94,1001.77 L342.70,1001.91 L343.46,1002.05 L344.22,1002.19 L344.98,1002.33 L345.74,1002.47 L346.50,1002.61 L347.26,1002.75 L348.02,1002.88 L348.78,1003.02 L349.54,1003.15 L350.30,1003.28 L351.06,1003.41 L351.82,1003.54 L352.58,1003.67 L353.34,1003.80 L354.10,1003.93 L354.86,1004.05 L355.62,1004.18 L356.38,1004.30 L357.14,1004.42 L357.90,1004.55 L358.66,1004.67 L359.42,1004.79 L360.18,1004.91 L360.94,1005.03 L361.70,1005.14 L362.46,1005.26 L363.22,1005.38 L363.98,1005.49 L364.74,1005.61 L365.50,1005.72 L366.26,1005.83 L367.02,1005.95 L367.78,1006.06 L368.54,1006.17 L369.30,1006.28 L370.06,1006.39 L370.82,1006.50 L371.58,1006.61 L372.34,1006.71 L373.10,1006.82 L373.86,1006.93 L374.62,1007.03 L375.38,1007.14 L376.14,1007.24 L376.90,1007.34 L377.66,1007.45 L378.42,1007.55 L379.18,1007.65 L379.94,1007.75 L380.70,1007.85 L381.46,1007.95 L382.22,1008.05 L382.98,1008.15 L383.74,1008.25 L384.50,1008.35 L385.26,1008.44 L386.02,1008.54 L386.78,1008.63 L387.54,1008.73 L388.30,1008.83 L389.06,1008.92 L389.82,1009.01 L390.58,1009.11 L391.34,1009.20 L392.10,1009.29 L392.86,1009.39 L393.62,1009.48 L394.38,1009.57 L395.14,1009.66 L395.90,1009.75 L396.66,1009.84 L397.42,1009.93 L398.18,1010.02 L398.94,1010.11 L399.70,1010.20 L400.46,1010.29 L401.22,1010.38 L401.98,1010.46 L402.74,1010.55 L403.50,1010.64 L404.26,1010.72 L405.02,1010.81 L405.78,1010.90 L406.54,1010.98 L407.30,1011.07 L408.06,1011.15 L408.82,1011.24 L409.58,1011.32 L410.34,1011.41 L411.10,1011.49 L411.86,1011.57 L412.62,1011.66 L413.38,1011.74 L414.14,1011.82 L414.90,1011.91 L415.66,1011.99 L416.42,1012.07 L417.18,1012.15 L417.94,1012.23 L418.70,1012.32 L419.46,1012.40 L420.22,1012.48 L420.98,1012.56 L421.74,1012.64 L422.50,1012.72 L423.26,1012.80 L424.02,1012.88 L424.78,1012.96 L425.54,1013.04 L426.30,1013.12 L427.06,1013.20 L427.82,1013.28 L428.58,1013.36 L429.34,1013.44 L430.10,1013.52 L430.86,1013.60 L431.62,1013.67 L432.38,1013.75 L433.14,1013.83 L433.90,1013.91 L434.66,1013.99 L435.42,1014.06 L436.18,1014.14 L436.94,1014.22 L437.70,1014.30 L438.46,1014.38 L439.22,1014.45 L439.98,1014.53 L440.74,1014.61 L441.50,1014.69 L442.26,1014.76 L443.02,1014.84 L443.78,1014.92 L444.54,1014.99 L445.30,1015.07 L446.06,1015.15 L446.82,1015.22 L447.58,1015.30 L448.34,1015.38 L449.10,1015.45 L449.86,1015.53 L450.62,1015.61 L451.38,1015.68 L452.14,1015.76 L452.90,1015.84 L453.66,1015.91 L454.42,1015.99 L455.18,1016.07 L455.94,1016.14 L456.70,1016.22 L457.46,1016.29 L458.22,1016.37 L458.98,1016.45 L459.74,1016.52 L460.50,1016.60 L461.26,1016.67 L462.02,1016.75 L462.78,1016.82 L463.54,1016.90 L464.30,1016.97 L465.06,1017.05 L465.82,1017.12 L466.58,1017.20 L467.34,1017.27 L468.10,1017.35 L468.86,1017.42 L469.62,1017.50 L470.38,1017.57 L471.14,1017.65 L471.90,1017.72 L472.66,1017.80 L473.42,1017.87 L474.18,1017.95 L474.94,1018.02 L475.70,1018.09 L476.46,1018.17 L477.22,1018.24 L477.98,1018.32 L478.74,1018.39 L479.50,1018.46 L480.26,1018.54 L481.02,1018.61 L481.78,1018.68 L482.54,1018.76 L483.30,1018.83 L484.06,1018.90 L484.82,1018.97 L485.58,1019.05 L486.34,1019.12 L487.10,1019.19 L487.86,1019.26 L488.62,1019.34 L489.38,1019.41 L490.14,1019.48 L490.90,1019.55 L491.66,1019.62 L492.42,1019.70 L493.18,1019.77 L493.94,1019.84 L494.70,1019.91 L495.46,1019.98 L496.22,1020.05 L496.98,1020.12 L497.74,1020.19 L498.50,1020.26 L499.26,1020.34 L500.02,1020.41 L500.78,1020.48 L501.54,1020.55 L502.30,1020.62 L503.06,1020.69 L503.82,1020.76 L504.58,1020.83 L505.34,1020.90 L506.10,1020.97 L506.86,1021.03 L507.62,1021.10 L508.38,1021.17 L509.14,1021.24 L509.90,1021.31 L510.66,1021.38 L511.42,1021.45 L512.18,1021.52 L512.94,1021.59 L513.70,1021.65 L514.46,1021.72 L515.22,1021.79 L515.98,1021.86 L516.74,1021.92 L517.50,1021.99 L518.26,1022.06 L519.02,1022.13 L519.78,1022.19 L520.54,1022.26 L521.30,1022.33 L522.06,1022.39 L522.82,1022.46 L523.58,1022.53 L524.34,1022.59 L525.10,1022.66 L525.86,1022.73 L526.62,1022.79 L527.38,1022.86 L528.14,1022.92 L528.90,1022.99 L529.66,1023.05 L530.42,1023.12 L531.18,1023.19 L531.94,1023.25 L532.70,1023.31 L533.46,1023.38 L534.22,1023.44 L534.98,1023.51 L535.74,1023.57 L536.50,1023.64 L537.26,1023.70 L538.02,1023.76 L538.78,1023.83 L539.54,1023.89 L540.30,1023.96 L541.06,1024.02 L541.82,1024.08 L542.58,1024.14 L543.34,1024.21 L544.10,1024.27 L544.86,1024.33 L545.62,1024.39 L546.38,1024.46 L547.14,1024.52 L547.90,1024.58 L548.66,1024.64 L549.42,1024.70 L550.18,1024.77 L550.94,1024.83 L551.70,1024.89 L552.46,1024.95 L553.22,1025.01 L553.98,1025.07 L554.74,1025.13 L555.50,1025.19 L556.26,1025.25 L557.02,1025.31 L557.78,1025.37 L558.54,1025.43 L559.30,1025.49 L560.06,1025.55 L560.82,1025.61 L561.58,1025.67 L562.34,1025.73 L563.10,1025.79 L563.86,1025.85 L564.62,1025.90 L565.38,1025.96 L566.14,1026.02 L566.90,1026.08 L567.66,1026.14 L568.42,1026.20 L569.18,1026.25 L569.94,1026.31 L570.70,1026.37 L571.46,1026.43 L572.22,1026.48 L572.98,1026.54 L573.74,1026.60 L574.50,1026.65 L575.26,1026.71 L576.02,1026.77 L576.78,1026.82 L577.54,1026.88 L578.30,1026.93 L579.06,1026.99 L579.82,1027.04 L580.58,1027.10 L581.34,1027.16 L582.10,1027.21 L582.86,1027.26 L583.62,1027.32 L584.38,1027.37 L585.14,1027.43 L585.90,1027.48 L586.66,1027.54 L587.42,1027.59 L588.18,1027.64 L588.94,1027.70 L589.70,1027.75 L590.46,1027.81 L591.22,1027.86 L591.98,1027.91 L592.74,1027.96 L593.50,1028.02 L594.26,1028.07 L595.02,1028.12 L595.78,1028.17 L596.54,1028.23 L597.30,1028.28 L598.06,1028.33 L598.82,1028.38 L599.58,1028.43 L600.34,1028.48 L601.10,1028.53 L601.86,1028.59 L602.62,1028.64 L603.38,1028.69 L604.14,1028.74 L604.90,1028.79 L605.66,1028.84 L606.42,1028.89 L607.18,1028.94 L607.94,1028.99 L608.70,1029.04 L609.46,1029.09 L610.22,1029.14 L610.98,1029.18 L611.74,1029.23 L612.50,1029.28 L613.26,1029.33 L614.02,1029.38 L614.78,1029.43 L615.54,1029.48 L616.30,1029.52 L617.06,1029.57 L617.82,1029.62 L618.58,1029.67 L619.34,1029.71 L620.10,1029.76 L620.86,1029.81 L621.62,1029.85 L622.38,1029.90 L623.14,1029.95 L623.90,1029.99 L624.66,1030.04 L625.42,1030.09 L626.18,1030.13 L626.94,1030.18 L627.70,1030.22 L628.46,1030.27 L629.22,1030.31 L629.98,1030.36 L630.74,1030.40 L631.50,1030.45 L632.26,1030.49 L633.02,1030.54 L633.78,1030.58 L634.54,1030.63 L635.30,1030.67 L636.06,1030.71 L636.82,1030.76 L637.58,1030.80 L638.34,1030.84 L639.10,1030.89 L639.86,1030.93 L640.62,1030.97 L641.38,1031.02 L642.14,1031.06 L642.90,1031.10 L643.66,1031.14 L644.42,1031.19 L645.18,1031.23 L645.94,1031.27 L646.70,1031.31 L647.46,1031.35 L648.22,1031.39 L648.98,1031.43 L649.74,1031.48 L650.50,1031.52 L651.26,1031.56 L652.02,1031.60 L652.78,1031.64 L653.54,1031.68 L654.30,1031.72 L655.06,1031.76 L655.82,1031.80 L656.58,1031.84 L657.34,1031.88 L658.10,1031.92 L658.86,1031.96 L659.62,1031.99 L660.38,1032.03 L661.14,1032.07 L661.90,1032.11 L662.66,1032.15 L663.42,1032.19 L664.18,1032.22 L664.94,1032.26 L665.70,1032.30 L666.46,1032.34 L667.22,1032.37 L667.98,1032.41 L668.74,1032.45 L669.50,1032.49 L670.26,1032.52 L671.02,1032.56 L671.78,1032.60 L672.54,1032.63 L673.30,1032.67 L674.06,1032.70 L674.82,1032.74 L675.58,1032.78 L676.34,1032.81 L677.10,1032.85 L677.86,1032.88 L678.62,1032.92 L679.38,1032.95 L680.14,1032.99 L680.90,1033.02 L681.66,1033.05 L682.42,1033.09 L683.18,1033.12 L683.94,1033.16 L684.70,1033.19 L685.46,1033.22 L686.22,1033.26 L686.98,1033.29 L687.74,1033.32 L688.50,1033.36 L689.26,1033.39 L690.02,1033.42 L690.78,1033.46 L691.54,1033.49 L692.30,1033.52 L693.06,1033.55 L693.82,1033.58 L694.58,1033.62 L695.34,1033.65 L696.10,1033.68 L696.86,1033.71 L697.62,1033.74 L698.38,1033.77 L699.14,1033.80 L699.90,1033.83 L700.66,1033.86 L701.42,1033.90 L702.18,1033.93 L702.94,1033.96 L703.70,1033.99 L704.46,1034.02 L705.22,1034.04 L705.98,1034.07 L706.74,1034.10 L707.50,1034.13 L708.26,1034.16 L709.02,1034.19 L709.78,1034.22 L710.54,1034.25 L711.30,1034.28 L712.06,1034.31 L712.82,1034.33 L713.58,1034.36 L714.34,1034.39 L715.10,1034.42 L715.86,1034.44 L716.62,1034.47 L717.38,1034.50 L718.14,1034.53 L718.90,1034.55 L719.66,1034.58 L720.42,1034.61 L721.18,1034.63 L721.94,1034.66 L722.70,1034.69 L723.46,1034.71 L724.22,1034.74 L724.98,1034.76 L725.74,1034.79 L726.50,1034.81 L727.26,1034.84 L728.02,1034.86 L728.78,1034.89 L729.54,1034.91 L730.30,1034.94 L731.06,1034.96 L731.82,1034.99 L732.58,1035.01 L733.34,1035.04 L734.10,1035.06 L734.86,1035.08 L735.62,1035.11 L736.38,1035.13 L737.14,1035.16 L737.90,1035.18 L738.66,1035.20 L739.42,1035.22 L740.18,1035.25 L740.94,1035.27 L741.70,1035.29 L742.46,1035.32 L743.22,1035.34 L743.98,1035.36 L744.74,1035.38 L745.50,1035.40 L746.26,1035.42 L747.02,1035.45 L747.78,1035.47 L748.54,1035.49 L749.30,1035.51 L750.06,1035.53 L750.82,1035.55 L751.58,1035.57 L752.34,1035.59 L753.10,1035.61 L753.86,1035.63 L754.62,1035.65 L755.38,1035.67 L756.14,1035.69 L756.90,1035.71 L757.66,1035.73 L758.42,1035.75 L759.18,1035.77 L759.94,1035.79 L760.70,1035.81 L761.46,1035.83 L762.22,1035.85 L762.98,1035.86 L763.74,1035.88 L764.50,1035.90 L765.26,1035.92 L766.02,1035.94 L766.78,1035.96 L767.54,1035.97 L768.30,1035.99 L769.06,1036.01 L769.82,1036.03 L770.58,1036.04 L771.34,1036.06 L772.10,1036.08 L772.86,1036.09 L773.62,1036.11 L774.38,1036.13 L775.14,1036.14 L775.90,1036.16 L776.66,1036.17 L777.42,1036.19 L778.18,1036.21 L778.94,1036.22 L779.70,1036.24 L780.46,1036.25 L781.22,1036.27 L781.98,1036.28 L782.74,1036.30 L783.50,1036.31 L784.26,1036.33 L785.02,1036.34 L785.78,1036.35 L786.54,1036.37 L787.30,1036.38 L788.06,1036.40 L788.82,1036.41 L789.58,1036.42 L790.34,1036.44 L791.10,1036.45 L791.86,1036.46 L792.62,1036.48 L793.38,1036.49 L794.14,1036.50 L794.90,1036.52 L795.66,1036.53 L796.42,1036.54 L797.18,1036.55 L797.94,1036.57 L798.70,1036.58 L799.46,1036.59 L800.22,1036.60 L800.98,1036.61 L801.74,1036.62 L802.50,1036.64 L803.26,1036.65 L804.02,1036.66 L804.78,1036.67 L805.54,1036.68 L806.30,1036.69 L807.06,1036.70 L807.82,1036.71 L808.58,1036.72 L809.34,1036.73 L810.10,1036.74 L810.86,1036.75 L811.62,1036.76 L812.38,1036.77 L813.14,1036.78 L813.90,1036.79 L814.66,1036.80 L815.42,1036.81 L816.18,1036.82 L816.94,1036.82 L817.70,1036.83" stroke="#000" stroke-width="5"/>
<path d="M57.70,1081.29 L58.08,1080.19 L58.46,1079.11 L58.84,1078.05 L59.22,1077.00 L59.60,1075.97 L59.98,1074.95 L60.36,1073.95 L60.74,1072.96 L61.12,1071.99 L61.50,1071.03 L61.88,1070.09 L62.26,1069.16 L62.64,1068.25 L63.02,1067.35 L63.40,1066.46 L63.78,1065.59 L64.16,1064.72 L64.54,1063.88 L64.92,1063.04 L65.30,1062.22 L65.68,1061.40 L66.06,1060.60 L66.44,1059.82 L66.82,1059.04 L67.20,1058.28 L67.58,1057.52 L67.96,1056.78 L68.34,1056.05 L68.72,1055.33 L69.10,1054.62 L69.48,1053.92 L69.86,1053.23 L70.24,1052.55 L70.62,1051.88 L71.00,1051.22 L71.38,1050.57 L71.76,1049.93 L72.14,1049.30 L72.52,1048.67 L72.90,1048.06 L73.28,1047.45 L73.66,1046.86 L74.04,1046.27 L74.42,1045.69 L74.80,1045.12 L75.18,1044.56 L75.56,1044.00 L75.94,1043.45 L76.32,1042.92 L76.70,1042.38 L77.08,1041.86 L77.46,1041.34 L77.84,1040.83 L78.22,1040.33 L78.60,1039.84 L78.98,1039.35 L79.36,1038.87 L79.74,1038.39 L80.12,1037.93 L80.50,1037.46 L80.88,1037.01 L81.26,1036.56 L81.64,1036.12 L82.02,1035.68 L82.40,1035.26 L82.78,1034.83 L83.16,1034.41 L83.54,1034.00 L83.92,1033.60 L84.30,1033.20 L84.68,1032.81 L85.06,1032.42 L85.44,1032.04 L85.82,1031.66 L86.20,1031.29 L86.58,1030.92 L86.96,1030.56 L87.34,1030.21 L87.72,1029.86 L88.10,1029.52 L88.48,1029.20 L88.86,1028.90 L89.24,1028.59 L89.62,1028.30 L90.00,1028.00 L90.38,1027.71 L90.76,1027.43 L91.14,1027.15 L91.52,1026.87 L91.90,1026.60 L92.28,1026.33 L92.66,1026.07 L93.04,1025.81 L93.42,1025.55 L93.80,1025.30 L94.18,1025.05 L94.56,1024.80 L94.94,1024.55 L95.32,1024.31 L95.70,1024.07 L96.08,1023.84 L96.46,1023.60 L96.84,1023.37 L97.22,1023.14 L97.60,1022.91 L97.98,1022.69 L98.36,1022.46 L98.74,1022.24 L99.12,1022.01 L99.50,1021.79 L99.88,1021.57 L100.26,1021.35 L100.64,1021.13 L101.02,1020.90 L101.40,1020.68 L101.78,1020.46 L102.16,1020.23 L102.54,1020.01 L102.92,1019.78 L103.30,1019.55 L103.68,1019.34 L104.06,1019.13 L104.44,1018.92 L104.82,1018.71 L105.20,1018.50 L105.58,1018.30 L105.96,1018.10 L106.34,1017.90 L106.72,1017.70 L107.10,1017.50 L107.48,1017.31 L107.86,1017.12 L108.24,1016.93 L108.62,1016.74 L109.00,1016.56 L109.38,1016.38 L109.76,1016.20 L110.14,1016.02 L110.52,1015.84 L110.90,1015.66 L111.28,1015.49 L111.66,1015.32 L112.04,1015.15 L112.42,1014.98 L112.80,1014.81 L113.18,1014.65 L113.56,1014.49 L113.94,1014.32 L114.32,1014.16 L114.70,1014.01 L115.08,1013.85 L115.46,1013.70 L115.84,1013.54 L116.22,1013.39 L116.60,1013.24 L116.98,1013.09 L117.36,1012.94 L117.74,1012.80 L118.12,1012.65 L118.50,1012.51 L118.88,1012.37 L119.26,1012.23 L119.64,1012.09 L120.02,1011.95 L120.40,1011.82 L120.78,1011.68 L121.16,1011.55 L121.54,1011.42 L121.92,1011.29 L122.30,1011.16 L122.68,1011.03 L123.06,1010.90 L123.44,1010.78 L123.82,1010.65 L124.20,1010.53 L124.58,1010.41 L124.96,1010.29 L125.34,1010.17 L125.72,1010.05 L126.10,1009.93 L126.48,1009.81 L126.86,1009.70 L127.24,1009.59 L127.62,1009.47 L128.00,1009.36 L128.38,1009.25 L128.76,1009.14 L129.14,1009.03 L129.52,1008.92 L129.90,1008.82 L130.28,1008.71 L130.66,1008.60 L131.04,1008.50 L131.42,1008.40 L131.80,1008.30 L132.18,1008.19 L132.56,1008.09 L132.94,1008.00 L133.32,1007.90 L133.70,1007.80 L134.08,1007.70 L134.46,1007.61 L134.84,1007.51 L135.22,1007.42 L135.60,1007.32 L135.98,1007.23 L136.36,1007.14 L136.74,1007.05 L137.12,1006.96 L137.50,1006.87 L137.88,1006.78 L138.26,1006.70 L138.64,1006.61 L139.02,1006.52 L139.40,1006.44 L139.78,1006.35 L140.16,1006.27 L140.54,1006.19 L140.92,1006.10 L141.30,1006.02 L141.68,1005.94 L142.06,1005.86 L142.44,1005.78 L142.82,1005.70 L143.20,1005.62 L143.58,1005.55 L143.96,1005.47 L144.34,1005.39 L144.72,1005.32 L145.10,1005.24 L145.48,1005.17 L145.86,1005.10 L146.24,1005.02 L146.62,1004.95 L147.00,1004.88 L147.38,1004.81 L147.76,1004.74 L148.14,1004.67 L148.52,1004.60 L148.90,1004.53 L149.28,1004.46 L149.66,1004.39 L150.04,1004.33 L150.42,1004.26 L150.80,1004.19 L151.18,1004.13 L151.56,1004.06 L151.94,1004.00 L152.32,1003.93 L152.70,1003.87 L153.08,1003.81 L153.46,1003.75 L153.84,1003.68 L154.22,1003.62 L154.60,1003.56 L154.98,1003.50 L155.36,1003.44 L155.74,1003.38 L156.12,1003.32 L156.50,1003.26 L156.88,1003.21 L157.26,1003.15 L157.64,1003.09 L158.02,1003.04 L158.40,1002.98 L158.78,1002.92 L159.16,1002.87 L159.54,1002.81 L159.92,1002.76 L160.30,1002.71 L160.68,1002.65 L161.06,1002.60 L161.44,1002.55 L161.82,1002.49 L162.20,1002.44 L162.58,1002.39 L162.96,1002.34 L163.34,1002.29 L163.72,1002.24 L164.10,1002.19 L164.48,1002.14 L164.86,1002.09 L165.24,1002.04 L165.62,1001.99 L166.00,1001.94 L166.38,1001.90 L166.76,1001.85 L167.14,1001.80 L167.52,1001.76 L167.90,1001.71 L168.28,1001.66 L168.66,1001.62 L169.04,1001.57 L169.42,1001.53 L169.80,1001.48 L170.18,1001.44 L170.56,1001.39 L170.94,1001.35 L171.32,1001.31 L171.70,1001.26 L172.46,1001.18 L173.22,1001.10 L173.98,1001.01 L174.74,1000.93 L175.50,1000.85 L176.26,1000.77 L177.02,1000.70 L177.78,1000.62 L178.54,1000.54 L179.30,1000.47 L180.06,1000.40 L180.82,1000.32 L181.58,1000.25 L182.34,1000.18 L183.10,1000.11 L183.86,1000.04 L184.62,999.98 L185.38,999.91 L186.14,999.84 L186.90,999.78 L187.66,999.71 L188.42,999.65 L189.18,999.59 L189.94,999.53 L190.70,999.47 L191.46,999.41 L192.22,999.35 L192.98,999.29 L193.74,999.23 L194.50,999.18 L195.26,999.12 L196.02,999.07 L196.78,999.01 L197.54,998.96 L198.30,998.91 L199.06,998.85 L199.82,998.80 L200.58,998.75 L201.34,998.70 L202.10,998.65 L202.86,998.60 L203.62,998.55 L204.38,998.51 L205.14,998.46 L205.90,998.41 L206.66,998.37 L207.42,998.32 L208.18,998.28 L208.94,998.23 L209.70,998.19 L210.46,998.15 L211.22,998.10 L211.98,998.06 L212.74,998.02 L213.50,997.98 L214.26,997.94 L215.02,997.90 L215.78,997.86 L216.54,997.82 L217.30,997.78 L218.06,997.74 L218.82,997.71 L219.58,997.67 L220.34,997.63 L221.10,997.60 L221.86,997.56 L222.62,997.52 L223.38,997.49 L224.14,997.45 L224.90,997.42 L225.66,997.39 L226.42,997.35 L227.18,997.32 L227.94,997.29 L228.70,997.25 L229.46,997.22 L230.22,997.19 L230.98,997.16 L231.74,997.13 L232.50,997.10 L233.26,997.07 L234.02,997.04 L234.78,997.01 L235.54,996.98 L236.30,996.95 L237.06,996.92 L237.82,996.89 L238.58,996.87 L239.34,996.84 L240.10,996.81 L240.86,996.79 L241.62,996.76 L242.38,996.73 L243.14,996.71 L243.90,996.68 L244.66,996.66 L245.42,996.63 L246.18,996.61 L246.94,996.58 L247.70,996.56 L248.46,996.53 L249.22,996.51 L249.98,996.48 L250.74,996.46 L251.50,996.44 L252.26,996.41 L253.02,996.39 L253.78,996.37 L254.54,996.35 L255.30,996.33 L256.06,996.30 L256.82,996.28 L257.58,996.26 L258.34,996.24 L259.10,996.22 L259.86,996.20 L260.62,996.18 L261.38,996.16 L262.14,996.14 L262.90,996.12 L263.66,996.10 L264.42,996.08 L265.18,996.06 L265.94,996.04 L266.70,996.02 L267.46,996.00 L268.22,995.99 L268.98,995.97 L269.74,995.95 L270.50,995.93 L271.26,995.91 L272.02,995.90 L272.78,995.88 L273.54,995.86 L274.30,995.85 L275.06,995.83 L275.82,995.81 L276.58,995.80 L277.34,995.78 L278.10,995.76 L278.86,995.75 L279.62,995.73 L280.38,995.72 L281.14,995.70 L281.90,995.68 L282.66,995.67 L283.42,995.65 L284.18,995.64 L284.94,995.62 L285.70,995.61 L286.46,995.59 L287.22,995.58 L287.98,995.57 L288.74,995.55 L289.50,995.54 L290.26,995.52 L291.02,995.51 L291.78,995.50 L292.54,995.48 L293.30,995.47 L294.06,995.46 L294.82,995.44 L295.58,995.43 L296.34,995.42 L297.10,995.40 L297.86,995.39 L298.62,995.38 L299.38,995.37 L300.14,995.36 L300.90,995.34 L301.66,995.33 L302.42,995.32 L303.18,995.31 L303.94,995.30 L304.70,995.28 L305.46,995.27 L306.22,995.26 L306.98,995.25 L307.74,995.24 L308.50,995.23 L309.26,995.22 L310.02,995.20 L310.78,995.19 L311.54,995.18 L312.30,995.17 L313.06,995.16 L313.82,995.15 L314.58,995.14 L315.34,995.13 L316.10,995.12 L316.86,995.11 L317.62,995.10 L318.38,995.09 L319.14,995.08 L319.90,995.07 L320.66,995.06 L321.42,995.05 L322.18,995.04 L322.94,995.03 L323.70,995.02 L324.46,995.01 L325.22,995.00 L325.98,995.00 L326.74,994.99 L327.50,994.98 L328.26,994.97 L329.02,994.96 L329.78,994.95 L330.54,994.94 L331.30,994.93 L332.06,994.93 L332.82,994.92 L333.58,994.91 L334.34,994.90 L335.10,994.89 L335.86,994.88 L336.62,994.88 L337.38,994.87 L338.14,994.86 L338.90,994.85 L339.66,994.84 L340.42,994.84 L341.18,994.83 L341.94,994.82 L342.70,994.81 L343.46,994.81 L344.22,994.80 L344.98,994.79 L345.74,994.78 L346.50,994.78 L347.26,994.77 L348.02,994.76 L348.78,994.75 L349.54,994.75 L350.30,994.74 L351.06,994.73 L351.82,994.73 L352.58,994.72 L353.34,994.71 L354.10,994.71 L354.86,994.70 L355.62,994.69 L356.38,994.69 L357.14,994.68 L357.90,994.67 L358.66,994.67 L359.42,994.66 L360.18,994.65 L360.94,994.65 L361.70,994.64 L362.46,994.64 L363.22,994.63 L363.98,994.62 L364.74,994.62 L365.50,994.61 L366.26,994.60 L367.02,994.60 L367.78,994.59 L368.54,994.59 L369.30,994.58 L370.06,994.58 L370.82,994.57 L371.58,994.56 L372.34,994.56 L373.10,994.55 L373.86,994.55 L374.62,994.54 L375.38,994.54 L376.14,994.53 L376.90,994.53 L377.66,994.52 L378.42,994.52 L379.18,994.51 L379.94,994.50 L380.70,994.50 L381.46,994.49 L382.22,994.49 L382.98,994.48 L383.74,994.48 L384.50,994.47 L385.26,994.47 L386.02,994.46 L386.78,994.46 L387.54,994.45 L388.30,994.45 L389.06,994.45 L389.82,994.44 L390.58,994.44 L391.34,994.43 L392.10,994.43 L392.86,994.42 L393.62,994.42 L394.38,994.41 L395.14,994.41 L395.90,994.40 L396.66,994.40 L397.42,994.39 L398.18,994.39 L398.94,994.39 L399.70,994.38 L400.46,994.38 L401.22,994.37 L401.98,994.37 L402.74,994.36 L403.50,994.36 L404.26,994.36 L405.02,994.35 L405.78,994.35 L406.54,994.34 L407.30,994.34 L408.06,994.34 L408.82,994.33 L409.58,994.33 L410.34,994.32 L411.10,994.32 L411.86,994.32 L412.62,994.31 L413.38,994.31 L414.14,994.31 L414.90,994.30 L415.66,994.30 L416.42,994.29 L417.18,994.29 L417.94,994.29 L418.70,994.28 L419.46,994.28 L420.22,994.28 L420.98,994.27 L421.74,994.27 L422.50,994.27 L423.26,994.26 L424.02,994.26 L424.78,994.25 L425.54,994.25 L426.30,994.25 L427.06,994.24 L427.82,994.24 L428.58,994.24 L429.34,994.23 L430.10,994.23 L430.86,994.23 L431.62,994.22 L432.38,994.22 L433.14,994.22 L433.90,994.22 L434.66,994.21 L435.42,994.21 L436.18,994.21 L436.94,994.20 L437.70,994.20 L438.46,994.20 L439.22,994.19 L439.98,994.19 L440.74,994.19 L441.50,994.18 L442.26,994.18 L443.02,994.18 L443.78,994.18 L444.54,994.17 L445.30,994.17 L446.06,994.17 L446.82,994.16 L447.58,994.16 L448.34,994.16 L449.10,994.16 L449.86,994.15 L450.62,994.15 L451.38,994.15 L452.14,994.14 L452.90,994.14 L453.66,994.14 L454.42,994.14 L455.18,994.13 L455.94,994.13 L456.70,994.13 L457.46,994.13 L458.22,994.12 L458.98,994.12 L459.74,994.12 L460.50,994.12 L461.26,994.11 L462.02,994.11 L462.78,994.11 L463.54,994.11 L464.30,994.10 L465.06,994.10 L465.82,994.10 L466.58,994.10 L467.34,994.09 L468.10,994.09 L468.86,994.09 L469.62,994.09 L470.38,994.08 L471.14,994.08 L471.90,994.08 L472.66,994.08 L473.42,994.07 L474.18,994.07 L474.94,994.07 L475.70,994.07 L476.46,994.07 L477.22,994.06 L477.98,994.06 L478.74,994.06 L479.50,994.06 L480.26,994.05 L481.02,994.05 L481.78,994.05 L482.54,994.05 L483.30,994.05 L484.06,994.04 L484.82,994.04 L485.58,994.04 L486.34,994.04 L487.10,994.03 L487.86,994.03 L488.62,994.03 L489.38,994.03 L490.14,994.03 L490.90,994.02 L491.66,994.02 L492.42,994.02 L493.18,994.02 L493.94,994.02 L494.70,994.01 L495.46,994.01 L496.22,994.01 L496.98,994.01 L497.74,994.01 L498.50,994.01 L499.26,994.00 L500.02,994.00 L500.78,994.00 L501.54,994.00 L502.30,994.00 L503.06,993.99 L503.82,993.99 L504.58,993.99 L505.34,993.99 L506.10,993.99 L506.86,993.99 L507.62,993.98 L508.38,993.98 L509.14,993.98 L509.90,993.98 L510.66,993.98 L511.42,993.97 L512.18,993.97 L512.94,993.97 L513.70,993.97 L514.46,993.97 L515.22,993.97 L515.98,993.96 L516.74,993.96 L517.50,993.96 L518.26,993.96 L519.02,993.96 L519.78,993.96 L520.54,993.95 L521.30,993.95 L522.06,993.95 L522.82,993.95 L523.58,993.95 L524.34,993.95 L525.10,993.95 L525.86,993.94 L526.62,993.94 L527.38,993.94 L528.14,993.94 L528.90,993.94 L529.66,993.94 L530.42,993.93 L531.18,993.93 L531.94,993.93 L532.70,993.93 L533.46,993.93 L534.22,993.93 L534.98,993.93 L535.74,993.92 L536.50,993.92 L537.26,993.92 L538.02,993.92 L538.78,993.92 L539.54,993.92 L540.30,993.92 L541.06,993.91 L541.82,993.91 L542.58,993.91 L543.34,993.91 L544.10,993.91 L544.86,993.91 L545.62,993.91 L546.38,993.90 L547.14,993.90 L547.90,993.90 L548.66,993.90 L549.42,993.90 L550.18,993.90 L550.94,993.90 L551.70,993.90 L552.46,993.89 L553.22,993.89 L553.98,993.89 L554.74,993.89 L555.50,993.89 L556.26,993.89 L557.02,993.89 L557.78,993.89 L558.54,993.88 L559.30,993.88 L560.06,993.88 L560.82,993.88 L561.58,993.88 L562.34,993.88 L563.10,993.88 L563.86,993.88 L564.62,993.87 L565.38,993.87 L566.14,993.87 L566.90,993.87 L567.66,993.87 L568.42,993.87 L569.18,993.87 L569.94,993.87 L570.70,993.87 L571.46,993.86 L572.22,993.86 L572.98,993.86 L573.74,993.86 L574.50,993.86 L575.26,993.86 L576.02,993.86 L576.78,993.86 L577.54,993.86 L578.30,993.85 L579.06,993.85 L579.82,993.85 L580.58,993.85 L581.34,993.85 L582.10,993.85 L582.86,993.85 L583.62,993.85 L584.38,993.85 L585.14,993.84 L585.90,993.84 L586.66,993.84 L587.42,993.84 L588.18,993.84 L588.94,993.84 L589.70,993.84 L590.46,993.84 L591.22,993.84 L591.98,993.84 L592.74,993.83 L593.50,993.83 L594.26,993.83 L595.02,993.83 L595.78,993.83 L596.54,993.83 L597.30,993.83 L598.06,993.83 L598.82,993.83 L599.58,993.83 L600.34,993.82 L601.10,993.82 L601.86,993.82 L602.62,993.82 L603.38,993.82 L604.14,993.82 L604.90,993.82 L605.66,993.82 L606.42,993.82 L607.18,993.82 L607.94,993.82 L608.70,993.81 L609.46,993.81 L610.22,993.81 L610.98,993.81 L611.74,993.81 L612.50,993.81 L613.26,993.81 L614.02,993.81 L614.78,993.81 L615.54,993.81 L616.30,993.81 L617.06,993.81 L617.82,993.80 L618.58,993.80 L619.34,993.80 L620.10,993.80 L620.86,993.80 L621.62,993.80 L622.38,993.80 L623.14,993.80 L623.90,993.80 L624.66,993.80 L625.42,993.80 L626.18,993.80 L626.94,993.79 L627.70,993.79 L628.46,993.79 L629.22,993.79 L629.98,993.79 L630.74,993.79 L631.50,993.79 L632.26,993.79 L633.02,993.79 L633.78,993.79 L634.54,993.79 L635.30,993.79 L636.06,993.79 L636.82,993.78 L637.58,993.78 L638.34,993.78 L639.10,993.78 L639.86,993.78 L640.62,993.78 L641.38,993.78 L642.14,993.78 L642.90,993.78 L643.66,993.78 L644.42,993.78 L645.18,993.78 L645.94,993.78 L646.70,993.77 L647.46,993.77 L648.22,993.77 L648.98,993.77 L649.74,993.77 L650.50,993.77 L651.26,993.77 L652.02,993.77 L652.78,993.77 L653.54,993.77 L654.30,993.77 L655.06,993.77 L655.82,993.77 L656.58,993.77 L657.34,993.77 L658.10,993.76 L658.86,993.76 L659.62,993.76 L660.38,993.76 L661.14,993.76 L661.90,993.76 L662.66,993.76 L663.42,993.76 L664.18,993.76 L664.94,993.76 L665.70,993.76 L666.46,993.76 L667.22,993.76 L667.98,993.76 L668.74,993.76 L669.50,993.75 L670.26,993.75 L671.02,993.75 L671.78,993.75 L672.54,993.75 L673.30,993.75 L674.06,993.75 L674.82,993.75 L675.58,993.75 L676.34,993.75 L677.10,993.75 L677.86,993.75 L678.62,993.75 L679.38,993.75 L680.14,993.75 L680.90,993.75 L681.66,993.75 L682.42,993.74 L683.18,993.74 L683.94,993.74 L684.70,993.74 L685.46,993.74 L686.22,993.74 L686.98,993.74 L687.74,993.74 L688.50,993.74 L689.26,993.74 L690.02,993.74 L690.78,993.74 L691.54,993.74 L692.30,993.74 L693.06,993.74 L693.82,993.74 L694.58,993.74 L695.34,993.74 L696.10,993.73 L696.86,993.73 L697.62,993.73 L698.38,993.73 L699.14,993.73 L699.90,993.73 L700.66,993.73 L701.42,993.73 L702.18,993.73 L702.94,993.73 L703.70,993.73 L704.46,993.73 L705.22,993.73 L705.98,993.73 L706.74,993.73 L707.50,993.73 L708.26,993.73 L709.02,993.73 L709.78,993.73 L710.54,993.72 L711.30,993.72 L712.06,993.72 L712.82,993.72 L713.58,993.72 L714.34,993.72 L715.10,993.72 L715.86,993.72 L716.62,993.72 L717.38,993.72 L718.14,993.72 L718.90,993.72 L719.66,993.72 L720.42,993.72 L721.18,993.72 L721.94,993.72 L722.70,993.72 L723.46,993.72 L724.22,993.72 L724.98,993.72 L725.74,993.72 L726.50,993.71 L727.26,993.71 L728.02,993.71 L728.78,993.71 L729.54,993.71 L730.30,993.71 L731.06,993.71 L731.82,993.71 L732.58,993.71 L733.34,993.71 L734.10,993.71 L734.86,993.71 L735.62,993.71 L736.38,993.71 L737.14,993.71 L737.90,993.71 L738.66,993.71 L739.42,993.71 L740.18,993.71 L740.94,993.71 L741.70,993.71 L742.46,993.71 L743.22,993.71 L743.98,993.70 L744.74,993.70 L745.50,993.70 L746.26,993.70 L747.02,993.70 L747.78,993.70 L748.54,993.70 L749.30,993.70 L750.06,993.70 L750.82,993.70 L751.58,993.70 L752.34,993.70 L753.10,993.70 L753.86,993.70 L754.62,993.70 L755.38,993.70 L756.14,993.70 L756.90,993.70 L757.66,993.70 L758.42,993.70 L759.18,993.70 L759.94,993.70 L760.70,993.70 L761.46,993.70 L762.22,993.70 L762.98,993.70 L763.74,993.69 L764.50,993.69 L765.26,993.69 L766.02,993.69 L766.78,993.69 L767.54,993.69 L768.30,993.69 L769.06,993.69 L769.82,993.69 L770.58,993.69 L771.34,993.69 L772.10,993.69 L772.86,993.69 L773.62,993.69 L774.38,993.69 L775.14,993.69 L775.90,993.69 L776.66,993.69 L777.42,993.69 L778.18,993.69 L778.94,993.69 L779.70,993.69 L780.46,993.69 L781.22,993.69 L781.98,993.69 L782.74,993.69 L783.50,993.69 L784.26,993.69 L785.02,993.68 L785.78,993.68 L786.54,993.68 L787.30,993.68 L788.06,993.68 L788.82,993.68 L789.58,993.68 L790.34,993.68 L791.10,993.68 L791.86,993.68 L792.62,993.68 L793.38,993.68 L794.14,993.68 L794.90,993.68 L795.66,993.68 L796.42,993.68 L797.18,993.68 L797.94,993.68 L798.70,993.68 L799.46,993.68 L800.22,993.68 L800.98,993.68 L801.74,993.68 L802.50,993.68 L803.26,993.68 L804.02,993.68 L804.78,993.68 L805.54,993.68 L806.30,993.68 L807.06,993.68 L807.82,993.68 L808.58,993.67 L809.34,993.67 L810.10,993.67 L810.86,993.67 L811.62,993.67 L812.38,993.67 L813.14,993.67 L813.90,993.67 L814.66,993.67 L815.42,993.67 L816.18,993.67 L816.94,993.67 L817.70,993.67" stroke="#ff0000" stroke-width="5" stroke-dasharray="15.5 5.05" stroke-dashoffset="3"/>
<path d="M57.70,1087.47 L61.11,1077.55 L64.52,1067.64 L67.94,1057.72 L71.35,1047.81 L74.76,1037.89 L78.17,1027.97 L81.59,1018.06 L85.00,1008.14 L88.41,998.23 L91.82,988.31 L95.23,978.40 L98.65,968.48 L102.06,958.56 L105.47,948.65 L108.88,938.73 L112.30,928.82 L115.71,918.90 L119.12,908.99 L122.53,899.07 L125.94,889.15 L129.36,879.24 L132.77,869.32 L136.18,859.41 L139.59,849.49 L143.01,839.58 L146.42,829.66 L149.83,819.74 L153.24,809.83 L156.66,799.91 L160.07,790.00 L163.48,780.08 L166.89,770.17 L170.30,760.25 L173.72,750.33 L177.13,740.42 L180.54,730.50 L183.95,720.59 L187.37,710.67 L190.78,700.76 L194.19,690.84 L197.60,680.92 L201.01,671.01 L204.43,661.09 L207.84,651.18 L211.25,641.26 L214.66,631.35 L218.08,621.43 L221.49,611.51 L224.90,601.60" stroke="#0000ff" stroke-width="5.3" stroke-dasharray="8.1 4.7"/>
</g>
<line x1="57.70" y1="1059.20" x2="817.70" y2="1059.20" stroke="#000" stroke-width="3.3"/>
<rect x="57.7" y="617.5" width="760.0" height="469.5" fill="none" stroke="#000" stroke-width="5.2"/>
<line x1="57.70" y1="1087.00" x2="57.70" y2="1077.60" stroke="#000" stroke-width="5.4"/>
<line x1="57.70" y1="617.50" x2="57.70" y2="626.90" stroke="#000" stroke-width="5.4"/>
<line x1="247.70" y1="1087.00" x2="247.70" y2="1077.60" stroke="#000" stroke-width="5.4"/>
<line x1="247.70" y1="617.50" x2="247.70" y2="626.90" stroke="#000" stroke-width="5.4"/>
<line x1="437.70" y1="1087.00" x2="437.70" y2="1077.60" stroke="#000" stroke-width="5.4"/>
<line x1="437.70" y1="617.50" x2="437.70" y2="626.90" stroke="#000" stroke-width="5.4"/>
<line x1="627.70" y1="1087.00" x2="627.70" y2="1077.60" stroke="#000" stroke-width="5.4"/>
<line x1="627.70" y1="617.50" x2="627.70" y2="626.90" stroke="#000" stroke-width="5.4"/>
<line x1="817.70" y1="1087.00" x2="817.70" y2="1077.60" stroke="#000" stroke-width="5.4"/>
<line x1="817.70" y1="617.50" x2="817.70" y2="626.90" stroke="#000" stroke-width="5.4"/>
<line x1="57.70" y1="1087.00" x2="57.70" y2="1081.50" stroke="#000" stroke-width="5.4"/>
<line x1="57.70" y1="617.50" x2="57.70" y2="623.00" stroke="#000" stroke-width="5.4"/>
<line x1="95.70" y1="1087.00" x2="95.70" y2="1081.50" stroke="#000" stroke-width="5.4"/>
<line x1="95.70" y1="617.50" x2="95.70" y2="623.00" stroke="#000" stroke-width="5.4"/>
<line x1="133.70" y1="1087.00" x2="133.70" y2="1081.50" stroke="#000" stroke-width="5.4"/>
<line x1="133.70" y1="617.50" x2="133.70" y2="623.00" stroke="#000" stroke-width="5.4"/>
<line x1="171.70" y1="1087.00" x2="171.70" y2="1081.50" stroke="#000" stroke-width="5.4"/>
<line x1="171.70" y1="617.50" x2="171.70" y2="623.00" stroke="#000" stroke-width="5.4"/>
<line x1="209.70" y1="1087.00" x2="209.70" y2="1081.50" stroke="#000" stroke-width="5.4"/>
<line x1="209.70" y1="617.50" x2="209.70" y2="623.00" stroke="#000" stroke-width="5.4"/>
<line x1="247.70" y1="1087.00" x2="247.70" y2="1081.50" stroke="#000" stroke-width="5.4"/>
<line x1="247.70" y1="617.50" x2="247.70" y2="623.00" stroke="#000" stroke-width="5.4"/>
<line x1="285.70" y1="1087.00" x2="285.70" y2="1081.50" stroke="#000" stroke-width="5.4"/>
<line x1="285.70" y1="617.50" x2="285.70" y2="623.00" stroke="#000" stroke-width="5.4"/>
<line x1="323.70" y1="1087.00" x2="323.70" y2="1081.50" stroke="#000" stroke-width="5.4"/>
<line x1="323.70" y1="617.50" x2="323.70" y2="623.00" stroke="#000" stroke-width="5.4"/>
<line x1="361.70" y1="1087.00" x2="361.70" y2="1081.50" stroke="#000" stroke-width="5.4"/>
<line x1="361.70" y1="617.50" x2="361.70" y2="623.00" stroke="#000" stroke-width="5.4"/>
<line x1="399.70" y1="1087.00" x2="399.70" y2="1081.50" stroke="#000" stroke-width="5.4"/>
<line x1="399.70" y1="617.50" x2="399.70" y2="623.00" stroke="#000" stroke-width="5.4"/>
<line x1="437.70" y1="1087.00" x2="437.70" y2="1081.50" stroke="#000" stroke-width="5.4"/>
<line x1="437.70" y1="617.50" x2="437.70" y2="623.00" stroke="#000" stroke-width="5.4"/>
<line x1="475.70" y1="1087.00" x2="475.70" y2="1081.50" stroke="#000" stroke-width="5.4"/>
<line x1="475.70" y1="617.50" x2="475.70" y2="623.00" stroke="#000" stroke-width="5.4"/>
<line x1="513.70" y1="1087.00" x2="513.70" y2="1081.50" stroke="#000" stroke-width="5.4"/>
<line x1="513.70" y1="617.50" x2="513.70" y2="623.00" stroke="#000" stroke-width="5.4"/>
<line x1="551.70" y1="1087.00" x2="551.70" y2="1081.50" stroke="#000" stroke-width="5.4"/>
<line x1="551.70" y1="617.50" x2="551.70" y2="623.00" stroke="#000" stroke-width="5.4"/>
<line x1="589.70" y1="1087.00" x2="589.70" y2="1081.50" stroke="#000" stroke-width="5.4"/>
<line x1="589.70" y1="617.50" x2="589.70" y2="623.00" stroke="#000" stroke-width="5.4"/>
<line x1="627.70" y1="1087.00" x2="627.70" y2="1081.50" stroke="#000" stroke-width="5.4"/>
<line x1="627.70" y1="617.50" x2="627.70" y2="623.00" stroke="#000" stroke-width="5.4"/>
<line x1="665.70" y1="1087.00" x2="665.70" y2="1081.50" stroke="#000" stroke-width="5.4"/>
<line x1="665.70" y1="617.50" x2="665.70" y2="623.00" stroke="#000" stroke-width="5.4"/>
<line x1="703.70" y1="1087.00" x2="703.70" y2="1081.50" stroke="#000" stroke-width="5.4"/>
<line x1="703.70" y1="617.50" x2="703.70" y2="623.00" stroke="#000" stroke-width="5.4"/>
<line x1="741.70" y1="1087.00" x2="741.70" y2="1081.50" stroke="#000" stroke-width="5.4"/>
<line x1="741.70" y1="617.50" x2="741.70" y2="623.00" stroke="#000" stroke-width="5.4"/>
<line x1="779.70" y1="1087.00" x2="779.70" y2="1081.50" stroke="#000" stroke-width="5.4"/>
<line x1="779.70" y1="617.50" x2="779.70" y2="623.00" stroke="#000" stroke-width="5.4"/>
<line x1="817.70" y1="1087.00" x2="817.70" y2="1081.50" stroke="#000" stroke-width="5.4"/>
<line x1="817.70" y1="617.50" x2="817.70" y2="623.00" stroke="#000" stroke-width="5.4"/>
<line x1="57.70" y1="1059.20" x2="67.10" y2="1059.20" stroke="#000" stroke-width="5.4"/>
<line x1="817.70" y1="1059.20" x2="808.30" y2="1059.20" stroke="#000" stroke-width="5.4"/>
<line x1="57.70" y1="948.78" x2="67.10" y2="948.78" stroke="#000" stroke-width="5.4"/>
<line x1="817.70" y1="948.78" x2="808.30" y2="948.78" stroke="#000" stroke-width="5.4"/>
<line x1="57.70" y1="838.35" x2="67.10" y2="838.35" stroke="#000" stroke-width="5.4"/>
<line x1="817.70" y1="838.35" x2="808.30" y2="838.35" stroke="#000" stroke-width="5.4"/>
<line x1="57.70" y1="727.93" x2="67.10" y2="727.93" stroke="#000" stroke-width="5.4"/>
<line x1="817.70" y1="727.93" x2="808.30" y2="727.93" stroke="#000" stroke-width="5.4"/>
<line x1="57.70" y1="617.50" x2="67.10" y2="617.50" stroke="#000" stroke-width="5.4"/>
<line x1="817.70" y1="617.50" x2="808.30" y2="617.50" stroke="#000" stroke-width="5.4"/>
<line x1="57.70" y1="1081.29" x2="63.20" y2="1081.29" stroke="#000" stroke-width="5.4"/>
<line x1="817.70" y1="1081.29" x2="812.20" y2="1081.29" stroke="#000" stroke-width="5.4"/>
<line x1="57.70" y1="1059.20" x2="63.20" y2="1059.20" stroke="#000" stroke-width="5.4"/>
<line x1="817.70" y1="1059.20" x2="812.20" y2="1059.20" stroke="#000" stroke-width="5.4"/>
<line x1="57.70" y1="1037.12" x2="63.20" y2="1037.12" stroke="#000" stroke-width="5.4"/>
<line x1="817.70" y1="1037.12" x2="812.20" y2="1037.12" stroke="#000" stroke-width="5.4"/>
<line x1="57.70" y1="1015.03" x2="63.20" y2="1015.03" stroke="#000" stroke-width="5.4"/>
<line x1="817.70" y1="1015.03" x2="812.20" y2="1015.03" stroke="#000" stroke-width="5.4"/>
<line x1="57.70" y1="992.95" x2="63.20" y2="992.95" stroke="#000" stroke-width="5.4"/>
<line x1="817.70" y1="992.95" x2="812.20" y2="992.95" stroke="#000" stroke-width="5.4"/>
<line x1="57.70" y1="970.86" x2="63.20" y2="970.86" stroke="#000" stroke-width="5.4"/>
<line x1="817.70" y1="970.86" x2="812.20" y2="970.86" stroke="#000" stroke-width="5.4"/>
<line x1="57.70" y1="948.77" x2="63.20" y2="948.77" stroke="#000" stroke-width="5.4"/>
<line x1="817.70" y1="948.77" x2="812.20" y2="948.77" stroke="#000" stroke-width="5.4"/>
<line x1="57.70" y1="926.69" x2="63.20" y2="926.69" stroke="#000" stroke-width="5.4"/>
<line x1="817.70" y1="926.69" x2="812.20" y2="926.69" stroke="#000" stroke-width="5.4"/>
<line x1="57.70" y1="904.61" x2="63.20" y2="904.61" stroke="#000" stroke-width="5.4"/>
<line x1="817.70" y1="904.61" x2="812.20" y2="904.61" stroke="#000" stroke-width="5.4"/>
<line x1="57.70" y1="882.52" x2="63.20" y2="882.52" stroke="#000" stroke-width="5.4"/>
<line x1="817.70" y1="882.52" x2="812.20" y2="882.52" stroke="#000" stroke-width="5.4"/>
<line x1="57.70" y1="860.44" x2="63.20" y2="860.44" stroke="#000" stroke-width="5.4"/>
<line x1="817.70" y1="860.44" x2="812.20" y2="860.44" stroke="#000" stroke-width="5.4"/>
<line x1="57.70" y1="838.35" x2="63.20" y2="838.35" stroke="#000" stroke-width="5.4"/>
<line x1="817.70" y1="838.35" x2="812.20" y2="838.35" stroke="#000" stroke-width="5.4"/>
<line x1="57.70" y1="816.27" x2="63.20" y2="816.27" stroke="#000" stroke-width="5.4"/>
<line x1="817.70" y1="816.27" x2="812.20" y2="816.27" stroke="#000" stroke-width="5.4"/>
<line x1="57.70" y1="794.18" x2="63.20" y2="794.18" stroke="#000" stroke-width="5.4"/>
<line x1="817.70" y1="794.18" x2="812.20" y2="794.18" stroke="#000" stroke-width="5.4"/>
<line x1="57.70" y1="772.10" x2="63.20" y2="772.10" stroke="#000" stroke-width="5.4"/>
<line x1="817.70" y1="772.10" x2="812.20" y2="772.10" stroke="#000" stroke-width="5.4"/>
<line x1="57.70" y1="750.01" x2="63.20" y2="750.01" stroke="#000" stroke-width="5.4"/>
<line x1="817.70" y1="750.01" x2="812.20" y2="750.01" stroke="#000" stroke-width="5.4"/>
<line x1="57.70" y1="727.93" x2="63.20" y2="727.93" stroke="#000" stroke-width="5.4"/>
<line x1="817.70" y1="727.93" x2="812.20" y2="727.93" stroke="#000" stroke-width="5.4"/>
<line x1="57.70" y1="705.84" x2="63.20" y2="705.84" stroke="#000" stroke-width="5.4"/>
<line x1="817.70" y1="705.84" x2="812.20" y2="705.84" stroke="#000" stroke-width="5.4"/>
<line x1="57.70" y1="683.76" x2="63.20" y2="683.76" stroke="#000" stroke-width="5.4"/>
<line x1="817.70" y1="683.76" x2="812.20" y2="683.76" stroke="#000" stroke-width="5.4"/>
<line x1="57.70" y1="661.67" x2="63.20" y2="661.67" stroke="#000" stroke-width="5.4"/>
<line x1="817.70" y1="661.67" x2="812.20" y2="661.67" stroke="#000" stroke-width="5.4"/>
<line x1="57.70" y1="639.59" x2="63.20" y2="639.59" stroke="#000" stroke-width="5.4"/>
<line x1="817.70" y1="639.59" x2="812.20" y2="639.59" stroke="#000" stroke-width="5.4"/>
<line x1="57.70" y1="617.50" x2="63.20" y2="617.50" stroke="#000" stroke-width="5.4"/>
<line x1="817.70" y1="617.50" x2="812.20" y2="617.50" stroke="#000" stroke-width="5.4"/>
<text transform="matrix(1.0298 0 0 1.04 -1.31 630.90)" font-size="35.5" stroke="#fff" stroke-width="0.15">2.0</text>
<text transform="matrix(1.0284 0 0 1.04 -2.21 739.63)" font-size="35.5" stroke="#fff" stroke-width="0.15">1.5</text>
<text transform="matrix(1.0526 0 0 1.04 -2.28 850.05)" font-size="35.5" stroke="#fff" stroke-width="0.15">1.0</text>
<text transform="matrix(1.0015 0 0 1.04 -1.05 960.48)" font-size="35.5" stroke="#fff" stroke-width="0.15">0.5</text>
<text transform="matrix(1.0767 0 0 1.04 25.94 1073.30)" font-size="35.5" stroke="#fff" stroke-width="0.15">0</text>
<text transform="matrix(1.0834 0 0 1.04 49.54 1127.00)" font-size="35.5" stroke="#fff" stroke-width="0.15">0</text>
<text transform="matrix(1.0909 0 0 1.04 237.75 1127.00)" font-size="35.5" stroke="#fff" stroke-width="0.15">5</text>
<text transform="matrix(1.0507 0 0 1.04 418.82 1127.00)" font-size="35.5" stroke="#fff" stroke-width="0.15">10</text>
<text transform="matrix(1.0518 0 0 1.04 607.42 1127.00)" font-size="35.5" stroke="#fff" stroke-width="0.15">15</text>
<text transform="matrix(0.9820 0 0 1.04 793.77 1127.00)" font-size="35.5" stroke="#fff" stroke-width="0.15">20</text>
<line x1="400.20" y1="1145.30" x2="400.20" y2="1187.50" stroke="#000" stroke-width="1.95"/>
<line x1="437.00" y1="1145.30" x2="437.00" y2="1187.50" stroke="#000" stroke-width="1.95"/>
<text transform="matrix(0.4719 0 0 0.4108 407.40 1177.26)" font-size="100" font-style="italic" font-weight="bold" fill="#000" stroke="#fff" stroke-width="0.53">q</text>
<path d="M444.18,1173.49 L444.73,1173.12 L445.28,1172.72 L445.82,1172.30 L446.35,1171.85 L446.87,1171.38 L447.38,1170.90 L447.88,1170.40 L448.38,1169.88 L448.87,1169.36 L449.35,1168.82 L449.84,1168.27 L450.32,1167.72 L450.80,1167.15 L451.28,1166.59 L451.75,1166.02 L452.23,1165.46 L452.72,1164.88 L453.20,1164.29 L453.68,1163.69 L454.15,1163.06 L454.61,1162.41 L455.06,1161.72 L455.48,1161.01 L455.88,1160.26 L456.26,1159.48 L456.63,1158.70 L456.99,1157.90 L457.36,1157.09 L457.74,1156.29 L458.14,1155.48 L458.57,1154.65 L458.97,1153.76 L459.31,1152.79 L459.51,1151.71 L459.53,1150.54 L459.34,1149.36 L458.92,1148.34 L458.23,1147.61 L457.39,1147.27 L456.57,1147.26 L455.82,1147.46 L455.15,1147.80 L454.56,1148.25 L454.01,1148.76 L453.47,1149.30 L452.88,1149.83 L452.31,1150.42 L451.76,1151.06 L451.24,1151.75 L450.74,1152.49 L450.27,1153.29 L449.83,1154.13 L449.42,1155.00 L449.05,1155.91 L448.71,1156.85 L448.40,1157.80 L448.12,1158.78 L447.86,1159.76 L447.63,1160.75 L447.42,1161.76 L447.23,1162.77 L447.06,1163.79 L446.92,1164.83 L446.80,1165.88 L446.70,1166.94 L446.62,1168.02 L446.59,1169.13 L446.62,1170.27 L446.75,1171.42 L446.99,1172.55 L447.35,1173.61 L447.81,1174.56 L448.35,1175.38 L448.88,1176.11 L449.49,1176.67 L450.15,1177.09 L450.85,1177.35 L451.56,1177.46 L452.25,1177.42 L452.92,1177.27 L453.56,1177.02 L454.17,1176.69 L454.76,1176.29 L455.32,1175.86 L455.86,1175.38 L456.39,1174.89 L456.89,1174.38 L457.38,1173.88 L457.86,1173.39 L456.83,1172.40 L456.36,1172.89 L455.88,1173.38 L455.39,1173.86 L454.90,1174.32 L454.41,1174.75 L453.92,1175.14 L453.43,1175.46 L452.96,1175.72 L452.50,1175.90 L452.06,1176.01 L451.63,1176.03 L451.21,1175.96 L450.78,1175.81 L450.36,1175.54 L449.95,1175.16 L449.56,1174.64 L449.31,1173.92 L449.12,1173.08 L449.00,1172.17 L448.96,1171.23 L449.01,1170.27 L449.12,1169.30 L449.28,1168.30 L449.46,1167.29 L449.64,1166.29 L449.84,1165.30 L450.04,1164.32 L450.24,1163.35 L450.45,1162.39 L450.66,1161.44 L450.88,1160.49 L451.10,1159.55 L451.33,1158.63 L451.57,1157.73 L451.82,1156.85 L452.07,1156.00 L452.34,1155.17 L452.62,1154.39 L452.91,1153.63 L453.22,1152.91 L453.55,1152.21 L453.89,1151.54 L454.24,1150.90 L454.60,1150.29 L455.03,1149.77 L455.48,1149.34 L455.92,1149.01 L456.34,1148.79 L456.74,1148.68 L457.11,1148.68 L457.41,1148.79 L457.70,1149.08 L457.96,1149.73 L458.10,1150.65 L458.09,1151.57 L457.92,1152.42 L457.64,1153.23 L457.28,1154.03 L456.87,1154.84 L456.45,1155.66 L456.06,1156.49 L455.69,1157.30 L455.33,1158.10 L454.97,1158.87 L454.61,1159.60 L454.23,1160.30 L453.84,1160.97 L453.43,1161.60 L452.99,1162.22 L452.55,1162.81 L452.09,1163.39 L451.62,1163.97 L451.14,1164.53 L450.66,1165.10 L450.18,1165.67 L449.71,1166.23 L449.23,1166.78 L448.76,1167.33 L448.29,1167.86 L447.81,1168.39 L447.34,1168.90 L446.86,1169.40 L446.38,1169.87 L445.89,1170.33 L445.41,1170.77 L444.91,1171.19 L444.42,1171.58 L443.91,1171.95 L443.39,1172.30Z" fill="#000"/>
<line x1="73.00" y1="51.30" x2="124.50" y2="51.30" stroke="#000" stroke-width="5"/>
<text transform="matrix(0.3387 0 0 0.3970 128.91 61.55)" font-size="100" fill="#000" stroke="#fff" stroke-width="0.74">(</text>
<text transform="matrix(0.3652 0 0 0.3792 140.05 61.53)" font-size="100" font-style="italic" fill="#000" stroke="#fff" stroke-width="0.68">U</text>
<text transform="matrix(0.3053 0 0 0.2397 166.21 65.50)" font-size="100" font-style="italic" font-weight="bold" fill="#000" stroke="#fff" stroke-width="0.45">q</text>
<text transform="matrix(0.2648 0 0 0.2746 170.44 42.95)" font-size="100" fill="#000" stroke="#fff" stroke-width="0.63">(</text>
<path d="M181.56,40.68 L181.88,40.49 L182.21,40.28 L182.53,40.06 L182.84,39.83 L183.15,39.59 L183.46,39.34 L183.76,39.08 L184.05,38.82 L184.35,38.54 L184.64,38.27 L184.93,37.98 L185.21,37.70 L185.50,37.41 L185.78,37.11 L186.07,36.82 L186.36,36.53 L186.65,36.23 L186.93,35.92 L187.22,35.61 L187.50,35.29 L187.78,34.95 L188.04,34.59 L188.30,34.22 L188.53,33.83 L188.76,33.43 L188.98,33.02 L189.20,32.61 L189.42,32.20 L189.64,31.78 L189.89,31.36 L190.14,30.93 L190.38,30.47 L190.58,29.96 L190.71,29.40 L190.72,28.78 L190.60,28.16 L190.35,27.62 L189.95,27.26 L189.48,27.09 L189.02,27.09 L188.60,27.18 L188.21,27.35 L187.86,27.58 L187.54,27.85 L187.22,28.12 L186.88,28.39 L186.55,28.69 L186.23,29.02 L185.92,29.38 L185.63,29.76 L185.35,30.17 L185.10,30.61 L184.86,31.06 L184.64,31.53 L184.44,32.02 L184.26,32.51 L184.09,33.02 L183.93,33.53 L183.79,34.05 L183.67,34.57 L183.55,35.09 L183.45,35.62 L183.36,36.16 L183.29,36.71 L183.22,37.26 L183.17,37.82 L183.15,38.40 L183.16,39.00 L183.23,39.60 L183.37,40.19 L183.58,40.74 L183.85,41.24 L184.16,41.67 L184.47,42.04 L184.83,42.33 L185.22,42.54 L185.62,42.67 L186.02,42.72 L186.42,42.70 L186.80,42.63 L187.17,42.50 L187.53,42.33 L187.87,42.13 L188.21,41.91 L188.53,41.66 L188.84,41.41 L189.14,41.15 L189.43,40.89 L189.72,40.63 L189.22,40.08 L188.94,40.33 L188.65,40.59 L188.36,40.84 L188.07,41.08 L187.77,41.30 L187.48,41.50 L187.18,41.68 L186.89,41.81 L186.61,41.91 L186.33,41.97 L186.05,41.98 L185.78,41.94 L185.51,41.86 L185.25,41.71 L184.99,41.51 L184.76,41.24 L184.60,40.86 L184.48,40.43 L184.40,39.97 L184.38,39.49 L184.40,39.00 L184.46,38.50 L184.55,37.99 L184.65,37.47 L184.76,36.95 L184.87,36.44 L184.98,35.94 L185.10,35.44 L185.23,34.94 L185.35,34.45 L185.48,33.96 L185.62,33.48 L185.75,33.00 L185.90,32.54 L186.05,32.08 L186.20,31.64 L186.37,31.22 L186.54,30.81 L186.72,30.42 L186.91,30.04 L187.11,29.68 L187.32,29.33 L187.54,29.00 L187.77,28.67 L188.03,28.40 L188.30,28.18 L188.57,28.00 L188.84,27.88 L189.10,27.82 L189.35,27.82 L189.56,27.89 L189.74,28.05 L189.89,28.38 L189.98,28.84 L189.97,29.31 L189.88,29.74 L189.71,30.16 L189.49,30.57 L189.25,30.99 L189.00,31.42 L188.76,31.84 L188.54,32.27 L188.33,32.68 L188.11,33.08 L187.90,33.46 L187.67,33.82 L187.44,34.16 L187.19,34.49 L186.93,34.81 L186.67,35.12 L186.39,35.42 L186.11,35.72 L185.83,36.01 L185.54,36.30 L185.25,36.60 L184.97,36.89 L184.69,37.17 L184.40,37.46 L184.12,37.73 L183.84,38.01 L183.55,38.27 L183.27,38.53 L182.98,38.78 L182.69,39.01 L182.40,39.24 L182.10,39.46 L181.80,39.66 L181.50,39.85 L181.19,40.04Z" fill="#000"/>
<text transform="matrix(0.2725 0 0 0.2746 192.72 42.95)" font-size="100" fill="#000" stroke="#fff" stroke-width="0.61">)</text>
<line x1="216.20" y1="51.90" x2="237.80" y2="51.90" stroke="#000" stroke-width="1.6"/>
<text transform="matrix(0.3652 0 0 0.3792 247.45 61.53)" font-size="100" font-style="italic" fill="#000" stroke="#fff" stroke-width="0.68">U</text>
<text transform="matrix(0.3162 0 0 0.2519 272.70 71.15)" font-size="100" fill="#000" stroke="#fff" stroke-width="0.46">0</text>
<text transform="matrix(0.2648 0 0 0.2746 278.84 42.95)" font-size="100" fill="#000" stroke="#fff" stroke-width="0.63">(</text>
<path d="M289.96,40.68 L290.28,40.49 L290.61,40.28 L290.93,40.06 L291.24,39.83 L291.55,39.59 L291.86,39.34 L292.16,39.08 L292.45,38.82 L292.75,38.54 L293.04,38.27 L293.33,37.98 L293.61,37.70 L293.90,37.41 L294.18,37.11 L294.47,36.82 L294.76,36.53 L295.05,36.23 L295.33,35.92 L295.62,35.61 L295.90,35.29 L296.18,34.95 L296.44,34.59 L296.70,34.22 L296.93,33.83 L297.16,33.43 L297.38,33.02 L297.60,32.61 L297.82,32.20 L298.04,31.78 L298.29,31.36 L298.54,30.93 L298.78,30.47 L298.98,29.96 L299.11,29.40 L299.12,28.78 L299.00,28.16 L298.75,27.62 L298.35,27.26 L297.88,27.09 L297.42,27.09 L297.00,27.18 L296.61,27.35 L296.26,27.58 L295.94,27.85 L295.62,28.12 L295.28,28.39 L294.95,28.69 L294.63,29.02 L294.32,29.38 L294.03,29.76 L293.75,30.17 L293.50,30.61 L293.26,31.06 L293.04,31.53 L292.84,32.02 L292.66,32.51 L292.49,33.02 L292.33,33.53 L292.19,34.05 L292.07,34.57 L291.95,35.09 L291.85,35.62 L291.76,36.16 L291.69,36.71 L291.62,37.26 L291.57,37.82 L291.55,38.40 L291.56,39.00 L291.63,39.60 L291.77,40.19 L291.98,40.74 L292.25,41.24 L292.56,41.67 L292.87,42.04 L293.23,42.33 L293.62,42.54 L294.02,42.67 L294.42,42.72 L294.82,42.70 L295.20,42.63 L295.57,42.50 L295.93,42.33 L296.27,42.13 L296.61,41.91 L296.93,41.66 L297.24,41.41 L297.54,41.15 L297.83,40.89 L298.12,40.63 L297.62,40.08 L297.34,40.33 L297.05,40.59 L296.76,40.84 L296.47,41.08 L296.17,41.30 L295.88,41.50 L295.58,41.68 L295.29,41.81 L295.01,41.91 L294.73,41.97 L294.45,41.98 L294.18,41.94 L293.91,41.86 L293.65,41.71 L293.39,41.51 L293.16,41.24 L293.00,40.86 L292.88,40.43 L292.80,39.97 L292.78,39.49 L292.80,39.00 L292.86,38.50 L292.95,37.99 L293.05,37.47 L293.16,36.95 L293.27,36.44 L293.38,35.94 L293.50,35.44 L293.63,34.94 L293.75,34.45 L293.88,33.96 L294.02,33.48 L294.15,33.00 L294.30,32.54 L294.45,32.08 L294.60,31.64 L294.77,31.22 L294.94,30.81 L295.12,30.42 L295.31,30.04 L295.51,29.68 L295.72,29.33 L295.94,29.00 L296.17,28.67 L296.43,28.40 L296.70,28.18 L296.97,28.00 L297.24,27.88 L297.50,27.82 L297.75,27.82 L297.96,27.89 L298.14,28.05 L298.29,28.38 L298.38,28.84 L298.37,29.31 L298.28,29.74 L298.11,30.16 L297.89,30.57 L297.65,30.99 L297.40,31.42 L297.16,31.84 L296.94,32.27 L296.73,32.68 L296.51,33.08 L296.30,33.46 L296.07,33.82 L295.84,34.16 L295.59,34.49 L295.33,34.81 L295.07,35.12 L294.79,35.42 L294.51,35.72 L294.23,36.01 L293.94,36.30 L293.65,36.60 L293.37,36.89 L293.09,37.17 L292.80,37.46 L292.52,37.73 L292.24,38.01 L291.95,38.27 L291.67,38.53 L291.38,38.78 L291.09,39.01 L290.80,39.24 L290.50,39.46 L290.20,39.66 L289.90,39.85 L289.59,40.04Z" fill="#000"/>
<text transform="matrix(0.2725 0 0 0.2746 301.12 42.95)" font-size="100" fill="#000" stroke="#fff" stroke-width="0.61">)</text>
<text transform="matrix(0.3426 0 0 0.3970 313.60 61.55)" font-size="100" fill="#000" stroke="#fff" stroke-width="0.73">)</text>
<line x1="329.25" y1="69.90" x2="341.95" y2="34.10" stroke="#000" stroke-width="1.6"/>
<text transform="matrix(0.3504 0 0 0.3970 346.26 61.55)" font-size="100" fill="#000" stroke="#fff" stroke-width="0.71">(</text>
<text transform="matrix(0.3667 0 0 0.3595 358.09 61.00)" font-size="100" fill="#000" stroke="#fff" stroke-width="0.68">2</text>
<text transform="matrix(0.3934 0 0 0.3477 375.79 61.16)" font-size="100" font-style="italic" fill="#000" stroke="#fff" stroke-width="0.60">π</text>
<text transform="matrix(0.3727 0 0 0.3593 397.57 61.13)" font-size="100" font-style="italic" fill="#000" stroke="#fff" stroke-width="0.67">d</text>
<text transform="matrix(0.2744 0 0 0.2477 416.49 48.20)" font-size="100" fill="#000" stroke="#fff" stroke-width="0.52">2</text>
<line x1="434.75" y1="69.90" x2="447.25" y2="34.10" stroke="#000" stroke-width="1.6"/>
<path d="M451.65,58.14 L452.07,57.84 L452.49,57.51 L452.90,57.17 L453.31,56.81 L453.71,56.43 L454.10,56.04 L454.49,55.63 L454.87,55.21 L455.25,54.78 L455.62,54.35 L455.99,53.90 L456.36,53.45 L456.73,53.00 L457.10,52.54 L457.47,52.08 L457.84,51.62 L458.21,51.16 L458.58,50.68 L458.95,50.19 L459.31,49.68 L459.66,49.15 L460.00,48.60 L460.33,48.02 L460.64,47.41 L460.93,46.79 L461.21,46.15 L461.49,45.50 L461.77,44.85 L462.06,44.20 L462.37,43.54 L462.70,42.87 L463.01,42.15 L463.27,41.36 L463.42,40.50 L463.44,39.55 L463.29,38.60 L462.97,37.78 L462.44,37.19 L461.78,36.90 L461.12,36.89 L460.54,37.06 L460.02,37.34 L459.56,37.70 L459.13,38.12 L458.72,38.56 L458.26,38.99 L457.82,39.47 L457.39,39.99 L456.98,40.55 L456.60,41.15 L456.23,41.79 L455.89,42.47 L455.58,43.18 L455.29,43.92 L455.03,44.68 L454.79,45.45 L454.57,46.24 L454.38,47.04 L454.20,47.84 L454.03,48.65 L453.89,49.47 L453.76,50.30 L453.65,51.14 L453.56,51.98 L453.49,52.84 L453.44,53.72 L453.41,54.62 L453.44,55.54 L453.54,56.47 L453.73,57.38 L454.01,58.23 L454.37,59.00 L454.78,59.67 L455.19,60.25 L455.66,60.72 L456.18,61.06 L456.72,61.27 L457.28,61.36 L457.83,61.33 L458.35,61.20 L458.85,61.00 L459.32,60.73 L459.77,60.41 L460.21,60.05 L460.62,59.67 L461.03,59.27 L461.42,58.86 L461.79,58.45 L462.16,58.05 L461.30,57.27 L460.94,57.67 L460.57,58.07 L460.20,58.46 L459.82,58.83 L459.44,59.18 L459.07,59.49 L458.70,59.75 L458.33,59.96 L457.99,60.10 L457.66,60.19 L457.34,60.20 L457.03,60.15 L456.71,60.03 L456.39,59.82 L456.08,59.51 L455.78,59.09 L455.59,58.50 L455.45,57.82 L455.36,57.08 L455.34,56.32 L455.37,55.54 L455.46,54.75 L455.59,53.94 L455.73,53.12 L455.87,52.30 L456.02,51.50 L456.18,50.71 L456.34,49.92 L456.50,49.14 L456.66,48.37 L456.83,47.60 L457.00,46.84 L457.18,46.09 L457.36,45.36 L457.54,44.64 L457.74,43.95 L457.94,43.29 L458.16,42.65 L458.38,42.04 L458.62,41.45 L458.86,40.89 L459.12,40.34 L459.38,39.83 L459.65,39.33 L459.98,38.91 L460.33,38.57 L460.66,38.30 L460.98,38.13 L461.28,38.04 L461.54,38.04 L461.75,38.12 L461.97,38.36 L462.17,38.89 L462.28,39.63 L462.27,40.39 L462.14,41.08 L461.93,41.74 L461.65,42.39 L461.33,43.04 L461.01,43.71 L460.71,44.38 L460.42,45.04 L460.15,45.68 L459.87,46.31 L459.59,46.91 L459.31,47.47 L459.00,48.01 L458.69,48.53 L458.35,49.02 L458.01,49.51 L457.66,49.98 L457.30,50.44 L456.93,50.90 L456.56,51.36 L456.19,51.82 L455.83,52.27 L455.46,52.72 L455.10,53.16 L454.74,53.60 L454.37,54.02 L454.01,54.44 L453.64,54.84 L453.27,55.23 L452.90,55.60 L452.53,55.95 L452.15,56.29 L451.77,56.61 L451.38,56.91 L450.98,57.19Z" fill="#000"/>
<text transform="matrix(0.3543 0 0 0.3970 465.36 61.55)" font-size="100" fill="#000" stroke="#fff" stroke-width="0.71">)</text>
<line x1="73.00" y1="111.25" x2="124.50" y2="111.25" stroke="#ff0000" stroke-width="5.2" stroke-dasharray="15.5 5.05"/>
<text transform="matrix(0.3387 0 0 0.3970 128.91 119.25)" font-size="100" fill="#000" stroke="#fff" stroke-width="0.74">(</text>
<text transform="matrix(0.3652 0 0 0.3792 140.05 119.23)" font-size="100" font-style="italic" fill="#000" stroke="#fff" stroke-width="0.68">U</text>
<text transform="matrix(0.3053 0 0 0.2397 166.21 123.20)" font-size="100" font-style="italic" font-weight="bold" fill="#000" stroke="#fff" stroke-width="0.45">q</text>
<text transform="matrix(0.2648 0 0 0.2746 170.44 100.65)" font-size="100" fill="#000" stroke="#fff" stroke-width="0.63">(</text>
<text transform="matrix(0.3074 0 0 0.2370 180.58 100.46)" font-size="100" font-style="italic" fill="#000" stroke="#fff" stroke-width="0.43">a</text>
<text transform="matrix(0.2803 0 0 0.2746 196.00 100.65)" font-size="100" fill="#000" stroke="#fff" stroke-width="0.59">)</text>
<line x1="219.20" y1="109.60" x2="240.80" y2="109.60" stroke="#000" stroke-width="1.6"/>
<text transform="matrix(0.3652 0 0 0.3792 250.45 119.23)" font-size="100" font-style="italic" fill="#000" stroke="#fff" stroke-width="0.68">U</text>
<text transform="matrix(0.3162 0 0 0.2519 275.70 128.85)" font-size="100" fill="#000" stroke="#fff" stroke-width="0.46">0</text>
<text transform="matrix(0.2648 0 0 0.2746 281.84 100.65)" font-size="100" fill="#000" stroke="#fff" stroke-width="0.63">(</text>
<text transform="matrix(0.3074 0 0 0.2370 291.98 100.46)" font-size="100" font-style="italic" fill="#000" stroke="#fff" stroke-width="0.43">a</text>
<text transform="matrix(0.2803 0 0 0.2746 307.40 100.65)" font-size="100" fill="#000" stroke="#fff" stroke-width="0.59">)</text>
<text transform="matrix(0.3426 0 0 0.3970 320.10 119.25)" font-size="100" fill="#000" stroke="#fff" stroke-width="0.73">)</text>
<line x1="335.75" y1="127.60" x2="348.45" y2="91.80" stroke="#000" stroke-width="1.6"/>
<text transform="matrix(0.3504 0 0 0.3970 352.76 119.25)" font-size="100" fill="#000" stroke="#fff" stroke-width="0.71">(</text>
<text transform="matrix(0.3667 0 0 0.3595 364.59 118.70)" font-size="100" fill="#000" stroke="#fff" stroke-width="0.68">2</text>
<text transform="matrix(0.3934 0 0 0.3477 382.29 118.86)" font-size="100" font-style="italic" fill="#000" stroke="#fff" stroke-width="0.60">π</text>
<text transform="matrix(0.3727 0 0 0.3593 404.07 118.83)" font-size="100" font-style="italic" fill="#000" stroke="#fff" stroke-width="0.67">d</text>
<text transform="matrix(0.2744 0 0 0.2477 422.99 105.90)" font-size="100" fill="#000" stroke="#fff" stroke-width="0.52">2</text>
<line x1="441.25" y1="127.60" x2="453.75" y2="91.80" stroke="#000" stroke-width="1.6"/>
<text transform="matrix(0.3698 0 0 0.3389 455.90 118.85)" font-size="100" font-style="italic" fill="#000" stroke="#fff" stroke-width="0.62">a</text>
<text transform="matrix(0.3426 0 0 0.3970 473.10 119.25)" font-size="100" fill="#000" stroke="#fff" stroke-width="0.73">)</text>
<line x1="73.00" y1="171.85" x2="120.00" y2="171.85" stroke="#0000ff" stroke-width="5.4" stroke-dasharray="8.1 4.7"/>
<text transform="matrix(0.3387 0 0 0.3970 128.91 182.55)" font-size="100" fill="#000" stroke="#fff" stroke-width="0.74">(</text>
<text transform="matrix(0.3652 0 0 0.3792 140.05 182.53)" font-size="100" font-style="italic" fill="#000" stroke="#fff" stroke-width="0.68">U</text>
<text transform="matrix(0.3053 0 0 0.2397 166.21 186.50)" font-size="100" font-style="italic" font-weight="bold" fill="#000" stroke="#fff" stroke-width="0.45">q</text>
<text transform="matrix(0.2648 0 0 0.2746 170.44 163.95)" font-size="100" fill="#000" stroke="#fff" stroke-width="0.63">(</text>
<text transform="matrix(0.3385 0 0 0.2377 180.13 163.40)" font-size="100" font-style="italic" fill="#000" stroke="#fff" stroke-width="0.40">r</text>
<text transform="matrix(0.2501 0 0 0.1956 193.75 168.01)" font-size="100" fill="#000" stroke="#fff" stroke-width="0.40">0</text>
<text transform="matrix(0.3037 0 0 0.2746 207.12 163.95)" font-size="100" fill="#000" stroke="#fff" stroke-width="0.55">)</text>
<line x1="231.20" y1="172.90" x2="252.80" y2="172.90" stroke="#000" stroke-width="1.6"/>
<text transform="matrix(0.3652 0 0 0.3792 262.45 182.53)" font-size="100" font-style="italic" fill="#000" stroke="#fff" stroke-width="0.68">U</text>
<text transform="matrix(0.3162 0 0 0.2519 287.70 192.15)" font-size="100" fill="#000" stroke="#fff" stroke-width="0.46">0</text>
<text transform="matrix(0.2648 0 0 0.2746 293.84 163.95)" font-size="100" fill="#000" stroke="#fff" stroke-width="0.63">(</text>
<text transform="matrix(0.3385 0 0 0.2377 303.53 163.40)" font-size="100" font-style="italic" fill="#000" stroke="#fff" stroke-width="0.40">r</text>
<text transform="matrix(0.2501 0 0 0.1956 317.15 168.01)" font-size="100" fill="#000" stroke="#fff" stroke-width="0.40">0</text>
<text transform="matrix(0.3037 0 0 0.2746 330.52 163.95)" font-size="100" fill="#000" stroke="#fff" stroke-width="0.55">)</text>
<text transform="matrix(0.3426 0 0 0.3970 343.40 182.55)" font-size="100" fill="#000" stroke="#fff" stroke-width="0.73">)</text>
<line x1="359.05" y1="190.90" x2="371.75" y2="155.10" stroke="#000" stroke-width="1.6"/>
<text transform="matrix(0.3504 0 0 0.3970 376.06 182.55)" font-size="100" fill="#000" stroke="#fff" stroke-width="0.71">(</text>
<text transform="matrix(0.3667 0 0 0.3595 387.89 182.00)" font-size="100" fill="#000" stroke="#fff" stroke-width="0.68">2</text>
<text transform="matrix(0.3934 0 0 0.3477 405.59 182.16)" font-size="100" font-style="italic" fill="#000" stroke="#fff" stroke-width="0.60">π</text>
<text transform="matrix(0.3727 0 0 0.3593 427.37 182.13)" font-size="100" font-style="italic" fill="#000" stroke="#fff" stroke-width="0.67">d</text>
<text transform="matrix(0.2744 0 0 0.2477 446.29 169.20)" font-size="100" fill="#000" stroke="#fff" stroke-width="0.52">2</text>
<line x1="464.55" y1="190.90" x2="477.05" y2="155.10" stroke="#000" stroke-width="1.6"/>
<text transform="matrix(0.4238 0 0 0.3502 475.58 182.30)" font-size="100" font-style="italic" fill="#000" stroke="#fff" stroke-width="0.57">r</text>
<text transform="matrix(0.3020 0 0 0.2482 492.05 187.76)" font-size="100" fill="#000" stroke="#fff" stroke-width="0.47">0</text>
<text transform="matrix(0.3582 0 0 0.3970 505.45 182.55)" font-size="100" fill="#000" stroke="#fff" stroke-width="0.70">)</text>
<line x1="386.90" y1="690.30" x2="438.40" y2="690.30" stroke="#000" stroke-width="5"/>
<text transform="matrix(0.3652 0 0 0.3792 449.45 701.93)" font-size="100" font-style="italic" fill="#000" stroke="#fff" stroke-width="0.68">U</text>
<text transform="matrix(0.3053 0 0 0.2397 475.61 705.90)" font-size="100" font-style="italic" font-weight="bold" fill="#000" stroke="#fff" stroke-width="0.45">q</text>
<text transform="matrix(0.2648 0 0 0.2746 479.94 683.35)" font-size="100" fill="#000" stroke="#fff" stroke-width="0.63">(</text>
<path d="M491.06,681.08 L491.38,680.89 L491.71,680.68 L492.03,680.46 L492.34,680.23 L492.65,679.99 L492.96,679.74 L493.26,679.48 L493.55,679.22 L493.85,678.94 L494.14,678.67 L494.43,678.38 L494.71,678.10 L495.00,677.81 L495.28,677.51 L495.57,677.22 L495.86,676.93 L496.15,676.63 L496.43,676.32 L496.72,676.01 L497.00,675.69 L497.28,675.35 L497.54,674.99 L497.80,674.62 L498.03,674.23 L498.26,673.83 L498.48,673.42 L498.70,673.01 L498.92,672.60 L499.14,672.18 L499.39,671.76 L499.64,671.33 L499.88,670.87 L500.08,670.36 L500.21,669.80 L500.22,669.18 L500.10,668.56 L499.85,668.02 L499.45,667.66 L498.98,667.49 L498.52,667.49 L498.10,667.58 L497.71,667.75 L497.36,667.98 L497.04,668.25 L496.72,668.52 L496.38,668.79 L496.05,669.09 L495.73,669.42 L495.42,669.78 L495.13,670.16 L494.85,670.57 L494.60,671.01 L494.36,671.46 L494.14,671.93 L493.94,672.42 L493.76,672.91 L493.59,673.42 L493.43,673.93 L493.29,674.45 L493.17,674.97 L493.05,675.49 L492.95,676.02 L492.86,676.56 L492.79,677.11 L492.72,677.66 L492.67,678.22 L492.65,678.80 L492.66,679.40 L492.73,680.00 L492.87,680.59 L493.08,681.14 L493.35,681.64 L493.66,682.07 L493.97,682.44 L494.33,682.73 L494.72,682.94 L495.12,683.07 L495.52,683.12 L495.92,683.10 L496.30,683.03 L496.67,682.90 L497.03,682.73 L497.37,682.53 L497.71,682.31 L498.03,682.06 L498.34,681.81 L498.64,681.55 L498.93,681.29 L499.22,681.03 L498.72,680.48 L498.44,680.73 L498.15,680.99 L497.86,681.24 L497.57,681.48 L497.27,681.70 L496.98,681.90 L496.68,682.08 L496.39,682.21 L496.11,682.31 L495.83,682.37 L495.55,682.38 L495.28,682.34 L495.01,682.26 L494.75,682.11 L494.49,681.91 L494.26,681.64 L494.10,681.26 L493.98,680.83 L493.90,680.37 L493.88,679.89 L493.90,679.40 L493.96,678.90 L494.05,678.39 L494.15,677.87 L494.26,677.35 L494.37,676.84 L494.48,676.34 L494.60,675.84 L494.73,675.34 L494.85,674.85 L494.98,674.36 L495.12,673.88 L495.25,673.40 L495.40,672.94 L495.55,672.48 L495.70,672.04 L495.87,671.62 L496.04,671.21 L496.22,670.82 L496.41,670.44 L496.61,670.08 L496.82,669.73 L497.04,669.40 L497.27,669.07 L497.53,668.80 L497.80,668.58 L498.07,668.40 L498.34,668.28 L498.60,668.22 L498.85,668.22 L499.06,668.29 L499.24,668.45 L499.39,668.78 L499.48,669.24 L499.47,669.71 L499.38,670.14 L499.21,670.56 L498.99,670.97 L498.75,671.39 L498.50,671.82 L498.26,672.24 L498.04,672.67 L497.83,673.08 L497.61,673.48 L497.40,673.86 L497.17,674.22 L496.94,674.56 L496.69,674.89 L496.43,675.21 L496.17,675.52 L495.89,675.82 L495.61,676.12 L495.33,676.41 L495.04,676.70 L494.75,677.00 L494.47,677.29 L494.19,677.57 L493.90,677.86 L493.62,678.13 L493.34,678.41 L493.05,678.67 L492.77,678.93 L492.48,679.18 L492.19,679.41 L491.90,679.64 L491.60,679.86 L491.30,680.06 L491.00,680.25 L490.69,680.44Z" fill="#000"/>
<text transform="matrix(0.2725 0 0 0.2746 502.22 683.35)" font-size="100" fill="#000" stroke="#fff" stroke-width="0.61">)</text>
<line x1="517.15" y1="710.30" x2="529.85" y2="674.50" stroke="#000" stroke-width="1.6"/>
<text transform="matrix(0.3504 0 0 0.3970 534.16 701.95)" font-size="100" fill="#000" stroke="#fff" stroke-width="0.71">(</text>
<text transform="matrix(0.3667 0 0 0.3595 545.99 701.40)" font-size="100" fill="#000" stroke="#fff" stroke-width="0.68">2</text>
<text transform="matrix(0.3934 0 0 0.3477 563.69 701.56)" font-size="100" font-style="italic" fill="#000" stroke="#fff" stroke-width="0.60">π</text>
<text transform="matrix(0.3727 0 0 0.3593 585.47 701.53)" font-size="100" font-style="italic" fill="#000" stroke="#fff" stroke-width="0.67">d</text>
<text transform="matrix(0.2744 0 0 0.2477 604.39 688.60)" font-size="100" fill="#000" stroke="#fff" stroke-width="0.52">2</text>
<line x1="622.65" y1="710.30" x2="635.15" y2="674.50" stroke="#000" stroke-width="1.6"/>
<path d="M639.55,698.54 L639.97,698.24 L640.39,697.91 L640.80,697.57 L641.21,697.21 L641.61,696.83 L642.00,696.44 L642.39,696.03 L642.77,695.61 L643.15,695.18 L643.52,694.75 L643.89,694.30 L644.26,693.85 L644.63,693.40 L645.00,692.94 L645.37,692.48 L645.74,692.02 L646.11,691.56 L646.48,691.08 L646.85,690.59 L647.21,690.08 L647.56,689.55 L647.90,689.00 L648.23,688.42 L648.54,687.81 L648.83,687.19 L649.11,686.55 L649.39,685.90 L649.67,685.25 L649.96,684.60 L650.27,683.94 L650.60,683.27 L650.91,682.55 L651.17,681.76 L651.32,680.90 L651.34,679.95 L651.19,679.00 L650.87,678.18 L650.34,677.59 L649.68,677.30 L649.02,677.29 L648.44,677.46 L647.92,677.74 L647.46,678.10 L647.03,678.52 L646.62,678.96 L646.16,679.39 L645.72,679.87 L645.29,680.39 L644.88,680.95 L644.50,681.55 L644.13,682.19 L643.79,682.87 L643.48,683.58 L643.19,684.32 L642.93,685.08 L642.69,685.85 L642.47,686.64 L642.28,687.44 L642.10,688.24 L641.93,689.05 L641.79,689.87 L641.66,690.70 L641.55,691.54 L641.46,692.38 L641.39,693.24 L641.34,694.12 L641.31,695.02 L641.34,695.94 L641.44,696.87 L641.63,697.78 L641.91,698.63 L642.27,699.40 L642.68,700.07 L643.09,700.65 L643.56,701.12 L644.08,701.46 L644.62,701.67 L645.18,701.76 L645.73,701.73 L646.25,701.60 L646.75,701.40 L647.22,701.13 L647.67,700.81 L648.11,700.45 L648.52,700.07 L648.93,699.67 L649.32,699.26 L649.69,698.85 L650.06,698.45 L649.20,697.67 L648.84,698.07 L648.47,698.47 L648.10,698.86 L647.72,699.23 L647.34,699.58 L646.97,699.89 L646.60,700.15 L646.23,700.36 L645.89,700.50 L645.56,700.59 L645.24,700.60 L644.93,700.55 L644.61,700.43 L644.29,700.22 L643.98,699.91 L643.68,699.49 L643.49,698.90 L643.35,698.22 L643.26,697.48 L643.24,696.72 L643.27,695.94 L643.36,695.15 L643.49,694.34 L643.63,693.52 L643.77,692.70 L643.92,691.90 L644.08,691.11 L644.24,690.32 L644.40,689.54 L644.56,688.77 L644.73,688.00 L644.90,687.24 L645.08,686.49 L645.26,685.76 L645.44,685.04 L645.64,684.35 L645.84,683.69 L646.06,683.05 L646.28,682.44 L646.52,681.85 L646.76,681.29 L647.02,680.74 L647.28,680.23 L647.55,679.73 L647.88,679.31 L648.23,678.97 L648.56,678.70 L648.88,678.53 L649.18,678.44 L649.44,678.44 L649.65,678.52 L649.87,678.76 L650.07,679.29 L650.18,680.03 L650.17,680.79 L650.04,681.48 L649.83,682.14 L649.55,682.79 L649.23,683.44 L648.91,684.11 L648.61,684.78 L648.32,685.44 L648.05,686.08 L647.77,686.71 L647.49,687.31 L647.21,687.87 L646.90,688.41 L646.59,688.93 L646.25,689.42 L645.91,689.91 L645.56,690.38 L645.20,690.84 L644.83,691.30 L644.46,691.76 L644.09,692.22 L643.73,692.67 L643.36,693.12 L643.00,693.56 L642.64,694.00 L642.27,694.42 L641.91,694.84 L641.54,695.24 L641.17,695.63 L640.80,696.00 L640.43,696.35 L640.05,696.69 L639.67,697.01 L639.28,697.31 L638.88,697.59Z" fill="#000"/>
<text transform="matrix(0.3543 0 0 0.3970 653.26 701.95)" font-size="100" fill="#000" stroke="#fff" stroke-width="0.71">)</text>
<line x1="386.90" y1="750.80" x2="438.40" y2="750.80" stroke="#ff0000" stroke-width="5" stroke-dasharray="15.5 5.05"/>
<text transform="matrix(0.3652 0 0 0.3792 449.45 760.33)" font-size="100" font-style="italic" fill="#000" stroke="#fff" stroke-width="0.68">U</text>
<text transform="matrix(0.3053 0 0 0.2397 475.61 764.30)" font-size="100" font-style="italic" font-weight="bold" fill="#000" stroke="#fff" stroke-width="0.45">q</text>
<text transform="matrix(0.2648 0 0 0.2746 479.94 741.75)" font-size="100" fill="#000" stroke="#fff" stroke-width="0.63">(</text>
<text transform="matrix(0.3074 0 0 0.2370 490.08 741.56)" font-size="100" font-style="italic" fill="#000" stroke="#fff" stroke-width="0.43">a</text>
<text transform="matrix(0.2803 0 0 0.2746 505.50 741.75)" font-size="100" fill="#000" stroke="#fff" stroke-width="0.59">)</text>
<line x1="520.65" y1="768.70" x2="533.35" y2="732.90" stroke="#000" stroke-width="1.6"/>
<text transform="matrix(0.3504 0 0 0.3970 537.66 760.35)" font-size="100" fill="#000" stroke="#fff" stroke-width="0.71">(</text>
<text transform="matrix(0.3667 0 0 0.3595 549.49 759.80)" font-size="100" fill="#000" stroke="#fff" stroke-width="0.68">2</text>
<text transform="matrix(0.3934 0 0 0.3477 567.19 759.96)" font-size="100" font-style="italic" fill="#000" stroke="#fff" stroke-width="0.60">π</text>
<text transform="matrix(0.3727 0 0 0.3593 588.97 759.93)" font-size="100" font-style="italic" fill="#000" stroke="#fff" stroke-width="0.67">d</text>
<text transform="matrix(0.2744 0 0 0.2477 607.89 747.00)" font-size="100" fill="#000" stroke="#fff" stroke-width="0.52">2</text>
<line x1="626.15" y1="768.70" x2="638.65" y2="732.90" stroke="#000" stroke-width="1.6"/>
<text transform="matrix(0.3698 0 0 0.3389 640.80 759.95)" font-size="100" font-style="italic" fill="#000" stroke="#fff" stroke-width="0.62">a</text>
<text transform="matrix(0.3426 0 0 0.3970 658.00 760.35)" font-size="100" fill="#000" stroke="#fff" stroke-width="0.73">)</text>
<line x1="386.90" y1="811.20" x2="434.00" y2="811.20" stroke="#0000ff" stroke-width="5.4" stroke-dasharray="8.1 4.7"/>
<text transform="matrix(0.3652 0 0 0.3792 449.45 821.33)" font-size="100" font-style="italic" fill="#000" stroke="#fff" stroke-width="0.68">U</text>
<text transform="matrix(0.3053 0 0 0.2397 475.61 825.30)" font-size="100" font-style="italic" font-weight="bold" fill="#000" stroke="#fff" stroke-width="0.45">q</text>
<text transform="matrix(0.2648 0 0 0.2746 479.94 802.75)" font-size="100" fill="#000" stroke="#fff" stroke-width="0.63">(</text>
<text transform="matrix(0.3385 0 0 0.2377 489.63 802.20)" font-size="100" font-style="italic" fill="#000" stroke="#fff" stroke-width="0.40">r</text>
<text transform="matrix(0.2501 0 0 0.1956 503.25 806.81)" font-size="100" fill="#000" stroke="#fff" stroke-width="0.40">0</text>
<text transform="matrix(0.3037 0 0 0.2746 516.62 802.75)" font-size="100" fill="#000" stroke="#fff" stroke-width="0.55">)</text>
<line x1="532.75" y1="829.70" x2="545.45" y2="793.90" stroke="#000" stroke-width="1.6"/>
<text transform="matrix(0.3504 0 0 0.3970 549.76 821.35)" font-size="100" fill="#000" stroke="#fff" stroke-width="0.71">(</text>
<text transform="matrix(0.3667 0 0 0.3595 561.59 820.80)" font-size="100" fill="#000" stroke="#fff" stroke-width="0.68">2</text>
<text transform="matrix(0.3934 0 0 0.3477 579.29 820.96)" font-size="100" font-style="italic" fill="#000" stroke="#fff" stroke-width="0.60">π</text>
<text transform="matrix(0.3727 0 0 0.3593 601.07 820.93)" font-size="100" font-style="italic" fill="#000" stroke="#fff" stroke-width="0.67">d</text>
<text transform="matrix(0.2744 0 0 0.2477 619.99 808.00)" font-size="100" fill="#000" stroke="#fff" stroke-width="0.52">2</text>
<line x1="638.25" y1="829.70" x2="650.75" y2="793.90" stroke="#000" stroke-width="1.6"/>
<text transform="matrix(0.4238 0 0 0.3502 651.88 821.10)" font-size="100" font-style="italic" fill="#000" stroke="#fff" stroke-width="0.57">r</text>
<text transform="matrix(0.3020 0 0 0.2482 668.35 826.56)" font-size="100" fill="#000" stroke="#fff" stroke-width="0.47">0</text>
<text transform="matrix(0.3387 0 0 0.3970 679.91 821.35)" font-size="100" fill="#000" stroke="#fff" stroke-width="0.74">)</text>
</svg>
</body></html>
